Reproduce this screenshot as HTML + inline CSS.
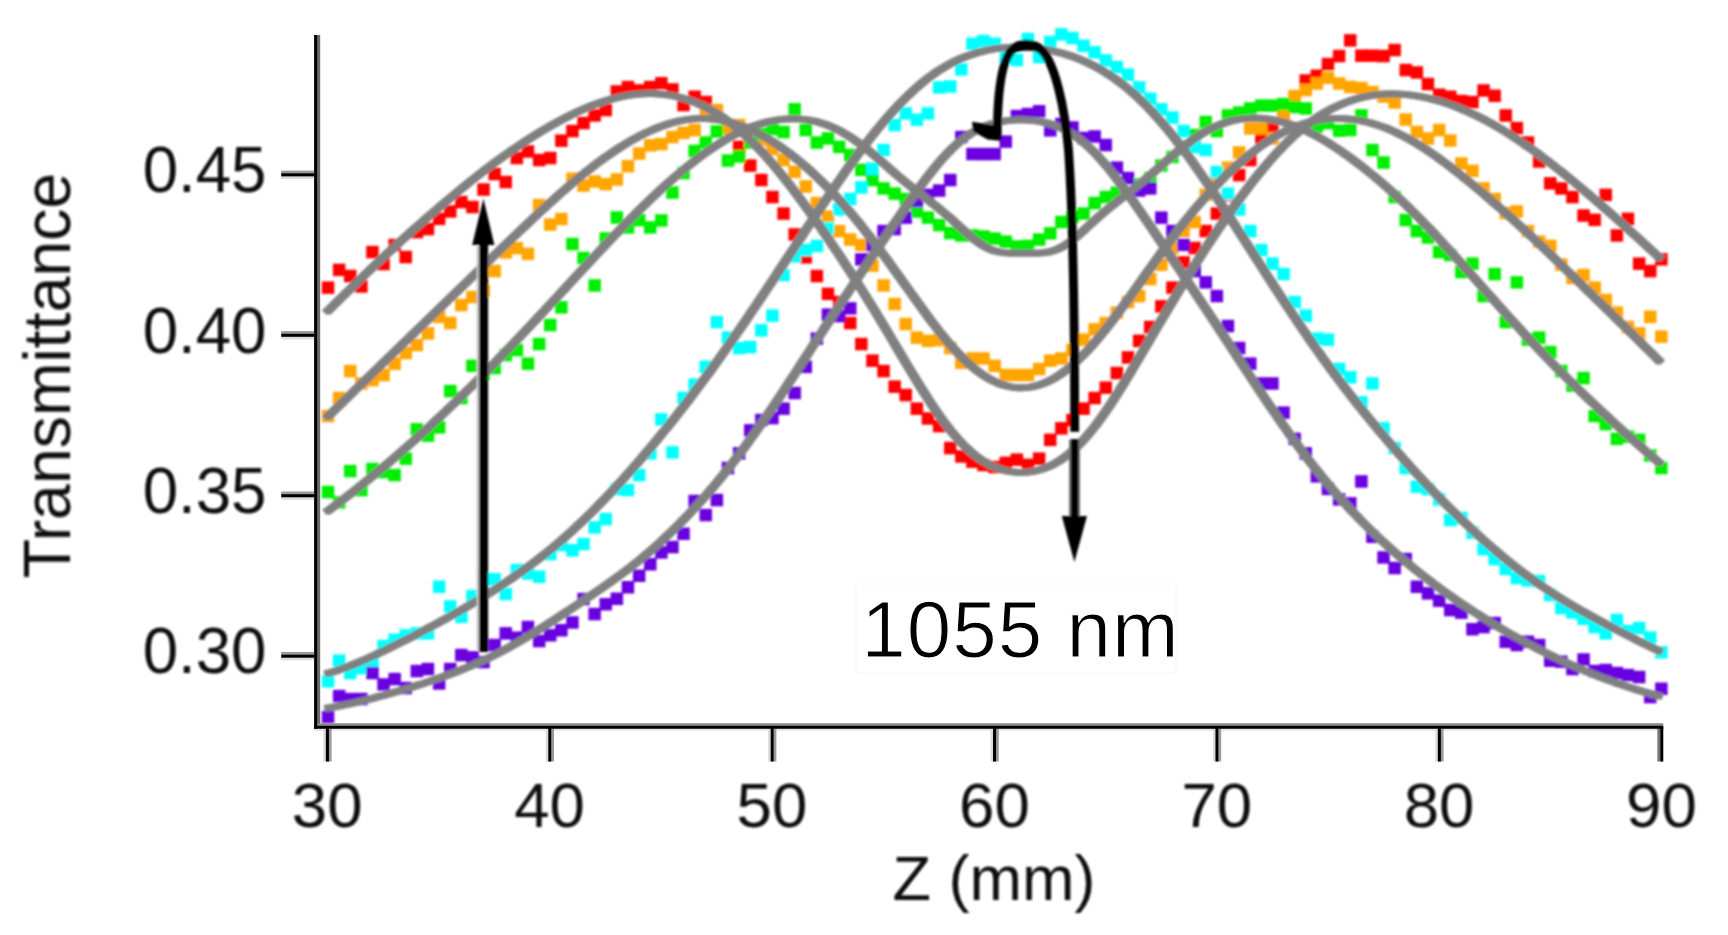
<!DOCTYPE html>
<html lang="en"><head><meta charset="utf-8"><title>Z-scan transmittance at 1055 nm</title>
<style>
html,body{margin:0;padding:0;background:#fff;}
body{width:1728px;height:935px;overflow:hidden;}
svg{display:block;}
</style></head><body>
<svg width="1728" height="935" viewBox="0 0 1728 935">
<defs><filter id="soft" x="-2%" y="-2%" width="104%" height="104%"><feGaussianBlur stdDeviation="1.15"/></filter><filter id="soft3" x="-2%" y="-2%" width="104%" height="104%"><feGaussianBlur stdDeviation="0.35"/></filter><filter id="soft2" x="-2%" y="-5%" width="104%" height="110%"><feGaussianBlur stdDeviation="0.6"/></filter></defs>
<rect width="1728" height="935" fill="#fff"/>
<g filter="url(#soft)">
<g id="markers"><g fill="#ff0000"><rect x="321.8" y="281.4" width="12.5" height="12.5"/><rect x="332.9" y="263.6" width="12.5" height="12.5"/><rect x="344.0" y="269.8" width="12.5" height="12.5"/><rect x="355.1" y="280.2" width="12.5" height="12.5"/><rect x="366.2" y="245.8" width="12.5" height="12.5"/><rect x="377.3" y="257.8" width="12.5" height="12.5"/><rect x="388.4" y="238.8" width="12.5" height="12.5"/><rect x="399.5" y="250.8" width="12.5" height="12.5"/><rect x="410.6" y="225.8" width="12.5" height="12.5"/><rect x="421.7" y="222.8" width="12.5" height="12.5"/><rect x="432.9" y="212.6" width="12.5" height="12.5"/><rect x="444.0" y="205.2" width="12.5" height="12.5"/><rect x="455.1" y="195.8" width="12.5" height="12.5"/><rect x="466.2" y="200.8" width="12.5" height="12.5"/><rect x="477.3" y="183.3" width="12.5" height="12.5"/><rect x="488.4" y="167.8" width="12.5" height="12.5"/><rect x="499.5" y="175.8" width="12.5" height="12.5"/><rect x="510.6" y="151.8" width="12.5" height="12.5"/><rect x="521.7" y="145.2" width="12.5" height="12.5"/><rect x="532.9" y="153.8" width="12.5" height="12.5"/><rect x="544.0" y="151.8" width="12.5" height="12.5"/><rect x="555.1" y="134.4" width="12.5" height="12.5"/><rect x="566.2" y="124.8" width="12.5" height="12.5"/><rect x="577.3" y="116.8" width="12.5" height="12.5"/><rect x="588.4" y="109.2" width="12.5" height="12.5"/><rect x="599.5" y="103.8" width="12.5" height="12.5"/><rect x="610.6" y="85.2" width="12.5" height="12.5"/><rect x="621.7" y="80.8" width="12.5" height="12.5"/><rect x="632.9" y="84.2" width="12.5" height="12.5"/><rect x="644.0" y="80.8" width="12.5" height="12.5"/><rect x="655.1" y="77.0" width="12.5" height="12.5"/><rect x="666.2" y="83.2" width="12.5" height="12.5"/><rect x="677.3" y="98.8" width="12.5" height="12.5"/><rect x="688.4" y="90.5" width="12.5" height="12.5"/><rect x="699.5" y="95.8" width="12.5" height="12.5"/><rect x="710.6" y="106.8" width="12.5" height="12.5"/><rect x="721.7" y="121.8" width="12.5" height="12.5"/><rect x="732.9" y="140.6" width="12.5" height="12.5"/><rect x="744.0" y="159.3" width="12.5" height="12.5"/><rect x="755.1" y="173.8" width="12.5" height="12.5"/><rect x="766.2" y="190.8" width="12.5" height="12.5"/><rect x="777.3" y="207.3" width="12.5" height="12.5"/><rect x="788.4" y="228.2" width="12.5" height="12.5"/><rect x="799.5" y="251.1" width="12.5" height="12.5"/><rect x="810.6" y="269.8" width="12.5" height="12.5"/><rect x="821.7" y="287.6" width="12.5" height="12.5"/><rect x="832.9" y="295.8" width="12.5" height="12.5"/><rect x="844.0" y="316.8" width="12.5" height="12.5"/><rect x="855.1" y="337.8" width="12.5" height="12.5"/><rect x="866.2" y="354.4" width="12.5" height="12.5"/><rect x="877.3" y="364.8" width="12.5" height="12.5"/><rect x="888.4" y="380.4" width="12.5" height="12.5"/><rect x="899.5" y="388.8" width="12.5" height="12.5"/><rect x="910.6" y="402.4" width="12.5" height="12.5"/><rect x="921.7" y="412.2" width="12.5" height="12.5"/><rect x="932.9" y="419.8" width="12.5" height="12.5"/><rect x="944.0" y="441.8" width="12.5" height="12.5"/><rect x="955.1" y="450.2" width="12.5" height="12.5"/><rect x="966.2" y="455.4" width="12.5" height="12.5"/><rect x="977.3" y="458.8" width="12.5" height="12.5"/><rect x="988.4" y="460.8" width="12.5" height="12.5"/><rect x="999.5" y="456.6" width="12.5" height="12.5"/><rect x="1010.6" y="453.4" width="12.5" height="12.5"/><rect x="1021.7" y="458.6" width="12.5" height="12.5"/><rect x="1032.9" y="452.4" width="12.5" height="12.5"/><rect x="1044.0" y="433.6" width="12.5" height="12.5"/><rect x="1055.1" y="422.1" width="12.5" height="12.5"/><rect x="1066.2" y="413.8" width="12.5" height="12.5"/><rect x="1077.3" y="402.4" width="12.5" height="12.5"/><rect x="1088.4" y="391.8" width="12.5" height="12.5"/><rect x="1099.5" y="381.4" width="12.5" height="12.5"/><rect x="1110.6" y="366.8" width="12.5" height="12.5"/><rect x="1121.7" y="351.2" width="12.5" height="12.5"/><rect x="1132.9" y="334.6" width="12.5" height="12.5"/><rect x="1144.0" y="320.8" width="12.5" height="12.5"/><rect x="1155.1" y="300.1" width="12.5" height="12.5"/><rect x="1166.2" y="281.4" width="12.5" height="12.5"/><rect x="1177.3" y="256.2" width="12.5" height="12.5"/><rect x="1188.4" y="241.8" width="12.5" height="12.5"/><rect x="1199.5" y="224.8" width="12.5" height="12.5"/><rect x="1210.6" y="207.3" width="12.5" height="12.5"/><rect x="1221.7" y="188.8" width="12.5" height="12.5"/><rect x="1232.9" y="168.8" width="12.5" height="12.5"/><rect x="1244.0" y="153.8" width="12.5" height="12.5"/><rect x="1255.1" y="131.2" width="12.5" height="12.5"/><rect x="1266.2" y="122.1" width="12.5" height="12.5"/><rect x="1277.3" y="111.8" width="12.5" height="12.5"/><rect x="1288.4" y="93.8" width="12.5" height="12.5"/><rect x="1299.5" y="74.3" width="12.5" height="12.5"/><rect x="1310.6" y="69.5" width="12.5" height="12.5"/><rect x="1321.7" y="57.8" width="12.5" height="12.5"/><rect x="1332.9" y="49.8" width="12.5" height="12.5"/><rect x="1344.0" y="34.1" width="12.5" height="12.5"/><rect x="1355.1" y="49.4" width="12.5" height="12.5"/><rect x="1366.2" y="49.4" width="12.5" height="12.5"/><rect x="1377.3" y="49.8" width="12.5" height="12.5"/><rect x="1388.4" y="43.8" width="12.5" height="12.5"/><rect x="1399.5" y="63.8" width="12.5" height="12.5"/><rect x="1410.6" y="66.2" width="12.5" height="12.5"/><rect x="1421.7" y="77.8" width="12.5" height="12.5"/><rect x="1432.9" y="88.5" width="12.5" height="12.5"/><rect x="1444.0" y="90.5" width="12.5" height="12.5"/><rect x="1455.1" y="94.8" width="12.5" height="12.5"/><rect x="1466.2" y="95.8" width="12.5" height="12.5"/><rect x="1477.3" y="84.2" width="12.5" height="12.5"/><rect x="1488.4" y="89.5" width="12.5" height="12.5"/><rect x="1499.5" y="109.2" width="12.5" height="12.5"/><rect x="1510.6" y="121.8" width="12.5" height="12.5"/><rect x="1521.7" y="136.3" width="12.5" height="12.5"/><rect x="1532.9" y="155.2" width="12.5" height="12.5"/><rect x="1544.0" y="177.1" width="12.5" height="12.5"/><rect x="1555.1" y="182.2" width="12.5" height="12.5"/><rect x="1566.2" y="190.8" width="12.5" height="12.5"/><rect x="1577.3" y="209.3" width="12.5" height="12.5"/><rect x="1588.4" y="213.6" width="12.5" height="12.5"/><rect x="1599.5" y="188.6" width="12.5" height="12.5"/><rect x="1610.6" y="229.2" width="12.5" height="12.5"/><rect x="1621.7" y="212.6" width="12.5" height="12.5"/><rect x="1632.9" y="257.4" width="12.5" height="12.5"/><rect x="1644.0" y="264.8" width="12.5" height="12.5"/><rect x="1655.1" y="253.1" width="12.5" height="12.5"/></g>
<g fill="#ffa500"><rect x="321.8" y="409.8" width="12.5" height="12.5"/><rect x="332.9" y="391.8" width="12.5" height="12.5"/><rect x="344.0" y="364.8" width="12.5" height="12.5"/><rect x="355.1" y="377.2" width="12.5" height="12.5"/><rect x="366.2" y="373.8" width="12.5" height="12.5"/><rect x="377.3" y="368.8" width="12.5" height="12.5"/><rect x="388.4" y="357.4" width="12.5" height="12.5"/><rect x="399.5" y="346.8" width="12.5" height="12.5"/><rect x="410.6" y="338.8" width="12.5" height="12.5"/><rect x="421.7" y="327.2" width="12.5" height="12.5"/><rect x="432.9" y="310.6" width="12.5" height="12.5"/><rect x="444.0" y="316.8" width="12.5" height="12.5"/><rect x="455.1" y="298.8" width="12.5" height="12.5"/><rect x="466.2" y="290.8" width="12.5" height="12.5"/><rect x="477.3" y="284.4" width="12.5" height="12.5"/><rect x="488.4" y="264.8" width="12.5" height="12.5"/><rect x="499.5" y="246.2" width="12.5" height="12.5"/><rect x="510.6" y="241.9" width="12.5" height="12.5"/><rect x="521.7" y="247.6" width="12.5" height="12.5"/><rect x="532.9" y="198.8" width="12.5" height="12.5"/><rect x="544.0" y="218.3" width="12.5" height="12.5"/><rect x="555.1" y="212.8" width="12.5" height="12.5"/><rect x="566.2" y="172.4" width="12.5" height="12.5"/><rect x="577.3" y="179.3" width="12.5" height="12.5"/><rect x="588.4" y="175.2" width="12.5" height="12.5"/><rect x="599.5" y="177.9" width="12.5" height="12.5"/><rect x="610.6" y="173.2" width="12.5" height="12.5"/><rect x="621.7" y="159.9" width="12.5" height="12.5"/><rect x="632.9" y="147.3" width="12.5" height="12.5"/><rect x="644.0" y="139.1" width="12.5" height="12.5"/><rect x="655.1" y="137.8" width="12.5" height="12.5"/><rect x="666.2" y="130.8" width="12.5" height="12.5"/><rect x="677.3" y="126.6" width="12.5" height="12.5"/><rect x="688.4" y="123.8" width="12.5" height="12.5"/><rect x="699.5" y="107.2" width="12.5" height="12.5"/><rect x="710.6" y="103.8" width="12.5" height="12.5"/><rect x="721.7" y="121.8" width="12.5" height="12.5"/><rect x="732.9" y="118.8" width="12.5" height="12.5"/><rect x="744.0" y="123.3" width="12.5" height="12.5"/><rect x="755.1" y="133.2" width="12.5" height="12.5"/><rect x="766.2" y="142.8" width="12.5" height="12.5"/><rect x="777.3" y="153.8" width="12.5" height="12.5"/><rect x="788.4" y="165.6" width="12.5" height="12.5"/><rect x="799.5" y="180.2" width="12.5" height="12.5"/><rect x="810.6" y="196.8" width="12.5" height="12.5"/><rect x="821.7" y="210.4" width="12.5" height="12.5"/><rect x="832.9" y="224.8" width="12.5" height="12.5"/><rect x="844.0" y="233.3" width="12.5" height="12.5"/><rect x="855.1" y="238.8" width="12.5" height="12.5"/><rect x="866.2" y="259.4" width="12.5" height="12.5"/><rect x="877.3" y="279.2" width="12.5" height="12.5"/><rect x="888.4" y="297.8" width="12.5" height="12.5"/><rect x="899.5" y="317.8" width="12.5" height="12.5"/><rect x="910.6" y="331.4" width="12.5" height="12.5"/><rect x="921.7" y="334.6" width="12.5" height="12.5"/><rect x="932.9" y="333.8" width="12.5" height="12.5"/><rect x="944.0" y="341.8" width="12.5" height="12.5"/><rect x="955.1" y="356.4" width="12.5" height="12.5"/><rect x="966.2" y="352.2" width="12.5" height="12.5"/><rect x="977.3" y="352.2" width="12.5" height="12.5"/><rect x="988.4" y="359.6" width="12.5" height="12.5"/><rect x="999.5" y="368.8" width="12.5" height="12.5"/><rect x="1010.6" y="368.8" width="12.5" height="12.5"/><rect x="1021.7" y="368.8" width="12.5" height="12.5"/><rect x="1032.9" y="362.8" width="12.5" height="12.5"/><rect x="1044.0" y="354.4" width="12.5" height="12.5"/><rect x="1055.1" y="352.2" width="12.5" height="12.5"/><rect x="1066.2" y="343.8" width="12.5" height="12.5"/><rect x="1077.3" y="333.4" width="12.5" height="12.5"/><rect x="1088.4" y="323.1" width="12.5" height="12.5"/><rect x="1099.5" y="316.8" width="12.5" height="12.5"/><rect x="1110.6" y="306.4" width="12.5" height="12.5"/><rect x="1121.7" y="295.8" width="12.5" height="12.5"/><rect x="1132.9" y="289.8" width="12.5" height="12.5"/><rect x="1144.0" y="272.8" width="12.5" height="12.5"/><rect x="1155.1" y="258.4" width="12.5" height="12.5"/><rect x="1166.2" y="241.8" width="12.5" height="12.5"/><rect x="1177.3" y="224.8" width="12.5" height="12.5"/><rect x="1188.4" y="215.8" width="12.5" height="12.5"/><rect x="1199.5" y="188.6" width="12.5" height="12.5"/><rect x="1210.6" y="173.8" width="12.5" height="12.5"/><rect x="1221.7" y="161.4" width="12.5" height="12.5"/><rect x="1232.9" y="146.2" width="12.5" height="12.5"/><rect x="1244.0" y="122.2" width="12.5" height="12.5"/><rect x="1255.1" y="122.2" width="12.5" height="12.5"/><rect x="1266.2" y="132.1" width="12.5" height="12.5"/><rect x="1277.3" y="109.2" width="12.5" height="12.5"/><rect x="1288.4" y="89.8" width="12.5" height="12.5"/><rect x="1299.5" y="83.8" width="12.5" height="12.5"/><rect x="1310.6" y="77.2" width="12.5" height="12.5"/><rect x="1321.7" y="71.5" width="12.5" height="12.5"/><rect x="1332.9" y="77.2" width="12.5" height="12.5"/><rect x="1344.0" y="80.7" width="12.5" height="12.5"/><rect x="1355.1" y="81.8" width="12.5" height="12.5"/><rect x="1366.2" y="85.8" width="12.5" height="12.5"/><rect x="1377.3" y="90.3" width="12.5" height="12.5"/><rect x="1388.4" y="96.2" width="12.5" height="12.5"/><rect x="1399.5" y="113.3" width="12.5" height="12.5"/><rect x="1410.6" y="125.8" width="12.5" height="12.5"/><rect x="1421.7" y="132.2" width="12.5" height="12.5"/><rect x="1432.9" y="123.8" width="12.5" height="12.5"/><rect x="1444.0" y="134.3" width="12.5" height="12.5"/><rect x="1455.1" y="157.2" width="12.5" height="12.5"/><rect x="1466.2" y="164.6" width="12.5" height="12.5"/><rect x="1477.3" y="182.2" width="12.5" height="12.5"/><rect x="1488.4" y="192.8" width="12.5" height="12.5"/><rect x="1499.5" y="206.8" width="12.5" height="12.5"/><rect x="1510.6" y="205.2" width="12.5" height="12.5"/><rect x="1521.7" y="224.8" width="12.5" height="12.5"/><rect x="1532.9" y="235.4" width="12.5" height="12.5"/><rect x="1544.0" y="239.7" width="12.5" height="12.5"/><rect x="1555.1" y="258.4" width="12.5" height="12.5"/><rect x="1566.2" y="271.8" width="12.5" height="12.5"/><rect x="1577.3" y="268.8" width="12.5" height="12.5"/><rect x="1588.4" y="281.4" width="12.5" height="12.5"/><rect x="1599.5" y="293.8" width="12.5" height="12.5"/><rect x="1610.6" y="306.4" width="12.5" height="12.5"/><rect x="1621.7" y="320.8" width="12.5" height="12.5"/><rect x="1632.9" y="327.2" width="12.5" height="12.5"/><rect x="1644.0" y="310.6" width="12.5" height="12.5"/><rect x="1655.1" y="330.4" width="12.5" height="12.5"/></g>
<g fill="#00ee00"><rect x="321.8" y="485.8" width="12.5" height="12.5"/><rect x="332.9" y="496.1" width="12.5" height="12.5"/><rect x="344.0" y="464.8" width="12.5" height="12.5"/><rect x="355.1" y="483.8" width="12.5" height="12.5"/><rect x="366.2" y="462.8" width="12.5" height="12.5"/><rect x="377.3" y="465.8" width="12.5" height="12.5"/><rect x="388.4" y="468.8" width="12.5" height="12.5"/><rect x="399.5" y="452.4" width="12.5" height="12.5"/><rect x="410.6" y="423.1" width="12.5" height="12.5"/><rect x="421.7" y="429.4" width="12.5" height="12.5"/><rect x="432.9" y="421.1" width="12.5" height="12.5"/><rect x="444.0" y="384.8" width="12.5" height="12.5"/><rect x="455.1" y="391.8" width="12.5" height="12.5"/><rect x="466.2" y="359.6" width="12.5" height="12.5"/><rect x="477.3" y="368.0" width="12.5" height="12.5"/><rect x="488.4" y="361.8" width="12.5" height="12.5"/><rect x="499.5" y="348.8" width="12.5" height="12.5"/><rect x="510.6" y="343.8" width="12.5" height="12.5"/><rect x="521.7" y="357.4" width="12.5" height="12.5"/><rect x="532.9" y="337.8" width="12.5" height="12.5"/><rect x="544.0" y="318.8" width="12.5" height="12.5"/><rect x="555.1" y="301.1" width="12.5" height="12.5"/><rect x="566.2" y="237.8" width="12.5" height="12.5"/><rect x="577.3" y="251.8" width="12.5" height="12.5"/><rect x="588.4" y="279.2" width="12.5" height="12.5"/><rect x="599.5" y="232.2" width="12.5" height="12.5"/><rect x="610.6" y="211.3" width="12.5" height="12.5"/><rect x="621.7" y="221.2" width="12.5" height="12.5"/><rect x="632.9" y="213.8" width="12.5" height="12.5"/><rect x="644.0" y="221.2" width="12.5" height="12.5"/><rect x="655.1" y="214.2" width="12.5" height="12.5"/><rect x="666.2" y="186.3" width="12.5" height="12.5"/><rect x="677.3" y="166.8" width="12.5" height="12.5"/><rect x="688.4" y="144.7" width="12.5" height="12.5"/><rect x="699.5" y="136.2" width="12.5" height="12.5"/><rect x="710.6" y="125.2" width="12.5" height="12.5"/><rect x="721.7" y="154.3" width="12.5" height="12.5"/><rect x="732.9" y="150.2" width="12.5" height="12.5"/><rect x="744.0" y="136.3" width="12.5" height="12.5"/><rect x="755.1" y="127.8" width="12.5" height="12.5"/><rect x="766.2" y="122.8" width="12.5" height="12.5"/><rect x="777.3" y="125.8" width="12.5" height="12.5"/><rect x="788.4" y="103.0" width="12.5" height="12.5"/><rect x="799.5" y="123.8" width="12.5" height="12.5"/><rect x="810.6" y="136.3" width="12.5" height="12.5"/><rect x="821.7" y="132.2" width="12.5" height="12.5"/><rect x="832.9" y="140.6" width="12.5" height="12.5"/><rect x="844.0" y="148.8" width="12.5" height="12.5"/><rect x="855.1" y="163.6" width="12.5" height="12.5"/><rect x="866.2" y="173.8" width="12.5" height="12.5"/><rect x="877.3" y="182.2" width="12.5" height="12.5"/><rect x="888.4" y="187.4" width="12.5" height="12.5"/><rect x="899.5" y="192.8" width="12.5" height="12.5"/><rect x="910.6" y="205.2" width="12.5" height="12.5"/><rect x="921.7" y="211.4" width="12.5" height="12.5"/><rect x="932.9" y="218.8" width="12.5" height="12.5"/><rect x="944.0" y="226.8" width="12.5" height="12.5"/><rect x="955.1" y="229.2" width="12.5" height="12.5"/><rect x="966.2" y="229.2" width="12.5" height="12.5"/><rect x="977.3" y="230.2" width="12.5" height="12.5"/><rect x="988.4" y="232.3" width="12.5" height="12.5"/><rect x="999.5" y="235.4" width="12.5" height="12.5"/><rect x="1010.6" y="240.2" width="12.5" height="12.5"/><rect x="1021.7" y="239.7" width="12.5" height="12.5"/><rect x="1032.9" y="233.3" width="12.5" height="12.5"/><rect x="1044.0" y="227.1" width="12.5" height="12.5"/><rect x="1055.1" y="215.8" width="12.5" height="12.5"/><rect x="1066.2" y="210.8" width="12.5" height="12.5"/><rect x="1077.3" y="207.3" width="12.5" height="12.5"/><rect x="1088.4" y="196.8" width="12.5" height="12.5"/><rect x="1099.5" y="190.8" width="12.5" height="12.5"/><rect x="1110.6" y="186.4" width="12.5" height="12.5"/><rect x="1121.7" y="187.0" width="12.5" height="12.5"/><rect x="1132.9" y="178.2" width="12.5" height="12.5"/><rect x="1144.0" y="171.8" width="12.5" height="12.5"/><rect x="1155.1" y="159.3" width="12.5" height="12.5"/><rect x="1166.2" y="150.8" width="12.5" height="12.5"/><rect x="1177.3" y="140.4" width="12.5" height="12.5"/><rect x="1188.4" y="128.8" width="12.5" height="12.5"/><rect x="1199.5" y="115.8" width="12.5" height="12.5"/><rect x="1210.6" y="124.8" width="12.5" height="12.5"/><rect x="1221.7" y="109.2" width="12.5" height="12.5"/><rect x="1232.9" y="106.3" width="12.5" height="12.5"/><rect x="1244.0" y="102.2" width="12.5" height="12.5"/><rect x="1255.1" y="99.3" width="12.5" height="12.5"/><rect x="1266.2" y="99.3" width="12.5" height="12.5"/><rect x="1277.3" y="97.8" width="12.5" height="12.5"/><rect x="1288.4" y="100.8" width="12.5" height="12.5"/><rect x="1299.5" y="102.2" width="12.5" height="12.5"/><rect x="1310.6" y="120.2" width="12.5" height="12.5"/><rect x="1321.7" y="116.8" width="12.5" height="12.5"/><rect x="1332.9" y="124.4" width="12.5" height="12.5"/><rect x="1344.0" y="123.8" width="12.5" height="12.5"/><rect x="1355.1" y="109.2" width="12.5" height="12.5"/><rect x="1366.2" y="143.8" width="12.5" height="12.5"/><rect x="1377.3" y="156.3" width="12.5" height="12.5"/><rect x="1388.4" y="190.8" width="12.5" height="12.5"/><rect x="1399.5" y="213.8" width="12.5" height="12.5"/><rect x="1410.6" y="224.8" width="12.5" height="12.5"/><rect x="1421.7" y="231.2" width="12.5" height="12.5"/><rect x="1432.9" y="245.8" width="12.5" height="12.5"/><rect x="1444.0" y="248.8" width="12.5" height="12.5"/><rect x="1455.1" y="265.8" width="12.5" height="12.5"/><rect x="1466.2" y="257.4" width="12.5" height="12.5"/><rect x="1477.3" y="289.8" width="12.5" height="12.5"/><rect x="1488.4" y="267.8" width="12.5" height="12.5"/><rect x="1499.5" y="315.8" width="12.5" height="12.5"/><rect x="1510.6" y="276.1" width="12.5" height="12.5"/><rect x="1521.7" y="333.4" width="12.5" height="12.5"/><rect x="1532.9" y="331.4" width="12.5" height="12.5"/><rect x="1544.0" y="345.8" width="12.5" height="12.5"/><rect x="1555.1" y="364.8" width="12.5" height="12.5"/><rect x="1566.2" y="379.4" width="12.5" height="12.5"/><rect x="1577.3" y="371.8" width="12.5" height="12.5"/><rect x="1588.4" y="409.8" width="12.5" height="12.5"/><rect x="1599.5" y="417.8" width="12.5" height="12.5"/><rect x="1610.6" y="432.6" width="12.5" height="12.5"/><rect x="1621.7" y="430.4" width="12.5" height="12.5"/><rect x="1632.9" y="433.6" width="12.5" height="12.5"/><rect x="1644.0" y="449.2" width="12.5" height="12.5"/><rect x="1655.1" y="461.8" width="12.5" height="12.5"/></g>
<g fill="#00ffff"><rect x="321.8" y="675.1" width="12.5" height="12.5"/><rect x="332.9" y="654.4" width="12.5" height="12.5"/><rect x="344.0" y="666.8" width="12.5" height="12.5"/><rect x="355.1" y="661.8" width="12.5" height="12.5"/><rect x="366.2" y="657.5" width="12.5" height="12.5"/><rect x="377.3" y="639.8" width="12.5" height="12.5"/><rect x="388.4" y="633.5" width="12.5" height="12.5"/><rect x="399.5" y="629.2" width="12.5" height="12.5"/><rect x="410.6" y="627.1" width="12.5" height="12.5"/><rect x="421.7" y="627.1" width="12.5" height="12.5"/><rect x="432.9" y="580.5" width="12.5" height="12.5"/><rect x="444.0" y="600.2" width="12.5" height="12.5"/><rect x="455.1" y="610.5" width="12.5" height="12.5"/><rect x="466.2" y="589.8" width="12.5" height="12.5"/><rect x="477.3" y="572.8" width="12.5" height="12.5"/><rect x="488.4" y="573.0" width="12.5" height="12.5"/><rect x="499.5" y="587.8" width="12.5" height="12.5"/><rect x="510.6" y="563.8" width="12.5" height="12.5"/><rect x="521.7" y="567.2" width="12.5" height="12.5"/><rect x="532.9" y="570.5" width="12.5" height="12.5"/><rect x="544.0" y="547.8" width="12.5" height="12.5"/><rect x="555.1" y="538.8" width="12.5" height="12.5"/><rect x="566.2" y="544.1" width="12.5" height="12.5"/><rect x="577.3" y="537.8" width="12.5" height="12.5"/><rect x="588.4" y="521.1" width="12.5" height="12.5"/><rect x="599.5" y="512.8" width="12.5" height="12.5"/><rect x="610.6" y="482.8" width="12.5" height="12.5"/><rect x="621.7" y="483.8" width="12.5" height="12.5"/><rect x="632.9" y="468.8" width="12.5" height="12.5"/><rect x="644.0" y="447.1" width="12.5" height="12.5"/><rect x="655.1" y="413.2" width="12.5" height="12.5"/><rect x="666.2" y="446.1" width="12.5" height="12.5"/><rect x="677.3" y="391.8" width="12.5" height="12.5"/><rect x="688.4" y="378.4" width="12.5" height="12.5"/><rect x="699.5" y="360.6" width="12.5" height="12.5"/><rect x="710.6" y="315.8" width="12.5" height="12.5"/><rect x="721.7" y="331.4" width="12.5" height="12.5"/><rect x="732.9" y="341.8" width="12.5" height="12.5"/><rect x="744.0" y="340.8" width="12.5" height="12.5"/><rect x="755.1" y="324.1" width="12.5" height="12.5"/><rect x="766.2" y="309.4" width="12.5" height="12.5"/><rect x="777.3" y="268.8" width="12.5" height="12.5"/><rect x="788.4" y="250.1" width="12.5" height="12.5"/><rect x="799.5" y="243.8" width="12.5" height="12.5"/><rect x="810.6" y="239.7" width="12.5" height="12.5"/><rect x="821.7" y="221.8" width="12.5" height="12.5"/><rect x="832.9" y="203.2" width="12.5" height="12.5"/><rect x="844.0" y="192.8" width="12.5" height="12.5"/><rect x="855.1" y="181.2" width="12.5" height="12.5"/><rect x="866.2" y="162.4" width="12.5" height="12.5"/><rect x="877.3" y="143.8" width="12.5" height="12.5"/><rect x="888.4" y="118.8" width="12.5" height="12.5"/><rect x="899.5" y="107.2" width="12.5" height="12.5"/><rect x="910.6" y="113.5" width="12.5" height="12.5"/><rect x="921.7" y="107.2" width="12.5" height="12.5"/><rect x="932.9" y="81.2" width="12.5" height="12.5"/><rect x="944.0" y="80.2" width="12.5" height="12.5"/><rect x="955.1" y="63.2" width="12.5" height="12.5"/><rect x="966.2" y="37.5" width="12.5" height="12.5"/><rect x="977.3" y="34.8" width="12.5" height="12.5"/><rect x="988.4" y="37.5" width="12.5" height="12.5"/><rect x="999.5" y="50.8" width="12.5" height="12.5"/><rect x="1010.6" y="53.8" width="12.5" height="12.5"/><rect x="1021.7" y="32.8" width="12.5" height="12.5"/><rect x="1032.9" y="50.8" width="12.5" height="12.5"/><rect x="1044.0" y="35.8" width="12.5" height="12.5"/><rect x="1055.1" y="28.1" width="12.5" height="12.5"/><rect x="1066.2" y="31.8" width="12.5" height="12.5"/><rect x="1077.3" y="39.5" width="12.5" height="12.5"/><rect x="1088.4" y="46.1" width="12.5" height="12.5"/><rect x="1099.5" y="54.2" width="12.5" height="12.5"/><rect x="1110.6" y="60.8" width="12.5" height="12.5"/><rect x="1121.7" y="68.5" width="12.5" height="12.5"/><rect x="1132.9" y="81.2" width="12.5" height="12.5"/><rect x="1144.0" y="92.5" width="12.5" height="12.5"/><rect x="1155.1" y="103.0" width="12.5" height="12.5"/><rect x="1166.2" y="111.3" width="12.5" height="12.5"/><rect x="1177.3" y="124.8" width="12.5" height="12.5"/><rect x="1188.4" y="140.8" width="12.5" height="12.5"/><rect x="1199.5" y="143.8" width="12.5" height="12.5"/><rect x="1210.6" y="165.8" width="12.5" height="12.5"/><rect x="1221.7" y="187.4" width="12.5" height="12.5"/><rect x="1232.9" y="203.2" width="12.5" height="12.5"/><rect x="1244.0" y="224.8" width="12.5" height="12.5"/><rect x="1255.1" y="243.8" width="12.5" height="12.5"/><rect x="1266.2" y="257.4" width="12.5" height="12.5"/><rect x="1277.3" y="267.8" width="12.5" height="12.5"/><rect x="1288.4" y="295.8" width="12.5" height="12.5"/><rect x="1299.5" y="309.4" width="12.5" height="12.5"/><rect x="1310.6" y="332.4" width="12.5" height="12.5"/><rect x="1321.7" y="333.4" width="12.5" height="12.5"/><rect x="1332.9" y="362.8" width="12.5" height="12.5"/><rect x="1344.0" y="371.1" width="12.5" height="12.5"/><rect x="1355.1" y="396.1" width="12.5" height="12.5"/><rect x="1366.2" y="377.2" width="12.5" height="12.5"/><rect x="1377.3" y="422.1" width="12.5" height="12.5"/><rect x="1388.4" y="441.8" width="12.5" height="12.5"/><rect x="1399.5" y="461.8" width="12.5" height="12.5"/><rect x="1410.6" y="480.4" width="12.5" height="12.5"/><rect x="1421.7" y="482.8" width="12.5" height="12.5"/><rect x="1432.9" y="493.1" width="12.5" height="12.5"/><rect x="1444.0" y="513.8" width="12.5" height="12.5"/><rect x="1455.1" y="511.8" width="12.5" height="12.5"/><rect x="1466.2" y="526.4" width="12.5" height="12.5"/><rect x="1477.3" y="542.8" width="12.5" height="12.5"/><rect x="1488.4" y="552.8" width="12.5" height="12.5"/><rect x="1499.5" y="562.8" width="12.5" height="12.5"/><rect x="1510.6" y="571.8" width="12.5" height="12.5"/><rect x="1521.7" y="574.2" width="12.5" height="12.5"/><rect x="1532.9" y="574.8" width="12.5" height="12.5"/><rect x="1544.0" y="588.8" width="12.5" height="12.5"/><rect x="1555.1" y="601.8" width="12.5" height="12.5"/><rect x="1566.2" y="606.2" width="12.5" height="12.5"/><rect x="1577.3" y="612.5" width="12.5" height="12.5"/><rect x="1588.4" y="620.8" width="12.5" height="12.5"/><rect x="1599.5" y="627.1" width="12.5" height="12.5"/><rect x="1610.6" y="613.8" width="12.5" height="12.5"/><rect x="1621.7" y="624.8" width="12.5" height="12.5"/><rect x="1632.9" y="621.8" width="12.5" height="12.5"/><rect x="1644.0" y="631.4" width="12.5" height="12.5"/><rect x="1655.1" y="646.0" width="12.5" height="12.5"/></g>
<g fill="#6a00e0"><rect x="321.8" y="710.8" width="12.5" height="12.5"/><rect x="332.9" y="689.8" width="12.5" height="12.5"/><rect x="344.0" y="692.8" width="12.5" height="12.5"/><rect x="355.1" y="692.8" width="12.5" height="12.5"/><rect x="366.2" y="666.8" width="12.5" height="12.5"/><rect x="377.3" y="678.2" width="12.5" height="12.5"/><rect x="388.4" y="672.8" width="12.5" height="12.5"/><rect x="399.5" y="681.8" width="12.5" height="12.5"/><rect x="410.6" y="664.8" width="12.5" height="12.5"/><rect x="421.7" y="662.8" width="12.5" height="12.5"/><rect x="432.9" y="677.2" width="12.5" height="12.5"/><rect x="444.0" y="662.8" width="12.5" height="12.5"/><rect x="455.1" y="648.8" width="12.5" height="12.5"/><rect x="466.2" y="651.1" width="12.5" height="12.5"/><rect x="477.3" y="655.8" width="12.5" height="12.5"/><rect x="488.4" y="638.8" width="12.5" height="12.5"/><rect x="499.5" y="627.1" width="12.5" height="12.5"/><rect x="510.6" y="631.4" width="12.5" height="12.5"/><rect x="521.7" y="620.8" width="12.5" height="12.5"/><rect x="532.9" y="634.8" width="12.5" height="12.5"/><rect x="544.0" y="629.0" width="12.5" height="12.5"/><rect x="555.1" y="624.0" width="12.5" height="12.5"/><rect x="566.2" y="616.2" width="12.5" height="12.5"/><rect x="577.3" y="592.8" width="12.5" height="12.5"/><rect x="588.4" y="607.8" width="12.5" height="12.5"/><rect x="599.5" y="598.0" width="12.5" height="12.5"/><rect x="610.6" y="592.5" width="12.5" height="12.5"/><rect x="621.7" y="581.0" width="12.5" height="12.5"/><rect x="632.9" y="569.5" width="12.5" height="12.5"/><rect x="644.0" y="558.0" width="12.5" height="12.5"/><rect x="655.1" y="546.2" width="12.5" height="12.5"/><rect x="666.2" y="540.8" width="12.5" height="12.5"/><rect x="677.3" y="527.5" width="12.5" height="12.5"/><rect x="688.4" y="494.8" width="12.5" height="12.5"/><rect x="699.5" y="508.8" width="12.5" height="12.5"/><rect x="710.6" y="493.8" width="12.5" height="12.5"/><rect x="721.7" y="461.8" width="12.5" height="12.5"/><rect x="732.9" y="447.1" width="12.5" height="12.5"/><rect x="744.0" y="424.1" width="12.5" height="12.5"/><rect x="755.1" y="413.8" width="12.5" height="12.5"/><rect x="766.2" y="411.8" width="12.5" height="12.5"/><rect x="777.3" y="402.4" width="12.5" height="12.5"/><rect x="788.4" y="386.8" width="12.5" height="12.5"/><rect x="799.5" y="360.6" width="12.5" height="12.5"/><rect x="810.6" y="332.4" width="12.5" height="12.5"/><rect x="821.7" y="308.4" width="12.5" height="12.5"/><rect x="832.9" y="309.8" width="12.5" height="12.5"/><rect x="844.0" y="302.1" width="12.5" height="12.5"/><rect x="855.1" y="253.1" width="12.5" height="12.5"/><rect x="866.2" y="238.8" width="12.5" height="12.5"/><rect x="877.3" y="224.8" width="12.5" height="12.5"/><rect x="888.4" y="222.8" width="12.5" height="12.5"/><rect x="899.5" y="211.4" width="12.5" height="12.5"/><rect x="910.6" y="194.8" width="12.5" height="12.5"/><rect x="921.7" y="188.6" width="12.5" height="12.5"/><rect x="932.9" y="184.3" width="12.5" height="12.5"/><rect x="944.0" y="173.8" width="12.5" height="12.5"/><rect x="955.1" y="130.8" width="12.5" height="12.5"/><rect x="966.2" y="147.8" width="12.5" height="12.5"/><rect x="977.3" y="147.8" width="12.5" height="12.5"/><rect x="988.4" y="147.8" width="12.5" height="12.5"/><rect x="999.5" y="135.4" width="12.5" height="12.5"/><rect x="1010.6" y="109.8" width="12.5" height="12.5"/><rect x="1021.7" y="107.8" width="12.5" height="12.5"/><rect x="1032.9" y="105.0" width="12.5" height="12.5"/><rect x="1044.0" y="124.1" width="12.5" height="12.5"/><rect x="1055.1" y="117.8" width="12.5" height="12.5"/><rect x="1066.2" y="121.2" width="12.5" height="12.5"/><rect x="1077.3" y="131.8" width="12.5" height="12.5"/><rect x="1088.4" y="130.2" width="12.5" height="12.5"/><rect x="1099.5" y="138.8" width="12.5" height="12.5"/><rect x="1110.6" y="161.4" width="12.5" height="12.5"/><rect x="1121.7" y="171.8" width="12.5" height="12.5"/><rect x="1132.9" y="184.3" width="12.5" height="12.5"/><rect x="1144.0" y="182.2" width="12.5" height="12.5"/><rect x="1155.1" y="211.4" width="12.5" height="12.5"/><rect x="1166.2" y="224.8" width="12.5" height="12.5"/><rect x="1177.3" y="238.6" width="12.5" height="12.5"/><rect x="1188.4" y="264.8" width="12.5" height="12.5"/><rect x="1199.5" y="276.1" width="12.5" height="12.5"/><rect x="1210.6" y="289.8" width="12.5" height="12.5"/><rect x="1221.7" y="319.8" width="12.5" height="12.5"/><rect x="1232.9" y="341.8" width="12.5" height="12.5"/><rect x="1244.0" y="357.4" width="12.5" height="12.5"/><rect x="1255.1" y="377.2" width="12.5" height="12.5"/><rect x="1266.2" y="377.2" width="12.5" height="12.5"/><rect x="1277.3" y="406.4" width="12.5" height="12.5"/><rect x="1288.4" y="432.6" width="12.5" height="12.5"/><rect x="1299.5" y="447.1" width="12.5" height="12.5"/><rect x="1310.6" y="470.1" width="12.5" height="12.5"/><rect x="1321.7" y="482.6" width="12.5" height="12.5"/><rect x="1332.9" y="493.1" width="12.5" height="12.5"/><rect x="1344.0" y="497.1" width="12.5" height="12.5"/><rect x="1355.1" y="475.2" width="12.5" height="12.5"/><rect x="1366.2" y="530.5" width="12.5" height="12.5"/><rect x="1377.3" y="551.2" width="12.5" height="12.5"/><rect x="1388.4" y="561.8" width="12.5" height="12.5"/><rect x="1399.5" y="552.8" width="12.5" height="12.5"/><rect x="1410.6" y="580.5" width="12.5" height="12.5"/><rect x="1421.7" y="587.1" width="12.5" height="12.5"/><rect x="1432.9" y="594.5" width="12.5" height="12.5"/><rect x="1444.0" y="603.8" width="12.5" height="12.5"/><rect x="1455.1" y="606.4" width="12.5" height="12.5"/><rect x="1466.2" y="623.0" width="12.5" height="12.5"/><rect x="1477.3" y="620.8" width="12.5" height="12.5"/><rect x="1488.4" y="616.8" width="12.5" height="12.5"/><rect x="1499.5" y="635.5" width="12.5" height="12.5"/><rect x="1510.6" y="638.8" width="12.5" height="12.5"/><rect x="1521.7" y="635.5" width="12.5" height="12.5"/><rect x="1532.9" y="638.8" width="12.5" height="12.5"/><rect x="1544.0" y="654.4" width="12.5" height="12.5"/><rect x="1555.1" y="655.4" width="12.5" height="12.5"/><rect x="1566.2" y="662.8" width="12.5" height="12.5"/><rect x="1577.3" y="653.2" width="12.5" height="12.5"/><rect x="1588.4" y="664.8" width="12.5" height="12.5"/><rect x="1599.5" y="663.8" width="12.5" height="12.5"/><rect x="1610.6" y="666.8" width="12.5" height="12.5"/><rect x="1621.7" y="668.8" width="12.5" height="12.5"/><rect x="1632.9" y="670.8" width="12.5" height="12.5"/><rect x="1644.0" y="690.8" width="12.5" height="12.5"/><rect x="1655.1" y="682.5" width="12.5" height="12.5"/></g></g>
<g fill="none" stroke="#808080" stroke-width="6.7" stroke-linecap="butt" stroke-linejoin="round"><g id="fits"><path d="M326.0,708.4 L329.0,707.9 L332.0,707.4 L335.0,706.8 L338.0,706.2 L341.0,705.6 L344.0,705.0 L347.0,704.4 L350.0,703.7 L353.0,703.1 L356.0,702.4 L359.0,701.7 L362.0,701.0 L365.0,700.2 L368.0,699.5 L371.0,698.7 L374.0,697.9 L377.0,697.1 L380.0,696.3 L383.0,695.5 L386.0,694.7 L389.0,693.8 L392.0,693.0 L395.0,692.1 L398.0,691.3 L401.0,690.4 L404.0,689.5 L407.0,688.6 L410.0,687.7 L413.0,686.7 L416.0,685.8 L419.0,684.8 L422.0,683.9 L425.0,682.9 L428.0,681.9 L431.0,680.9 L434.0,679.9 L437.0,678.8 L440.0,677.8 L443.0,676.7 L446.0,675.6 L449.0,674.5 L452.0,673.4 L455.0,672.3 L458.0,671.1 L461.0,669.9 L464.0,668.7 L467.0,667.5 L470.0,666.2 L473.0,665.0 L476.0,663.7 L479.0,662.3 L482.0,661.0 L485.0,659.6 L488.0,658.2 L491.0,656.7 L494.0,655.2 L497.0,653.7 L500.0,652.2 L503.0,650.6 L506.0,649.0 L509.0,647.4 L512.0,645.7 L515.0,644.0 L518.0,642.3 L521.0,640.5 L524.0,638.8 L527.0,637.0 L530.0,635.1 L533.0,633.3 L536.0,631.4 L539.0,629.6 L542.0,627.7 L545.0,625.8 L548.0,623.9 L551.0,621.9 L554.0,620.0 L557.0,618.0 L560.0,616.1 L563.0,614.1 L566.0,612.1 L569.0,610.2 L572.0,608.2 L575.0,606.2 L578.0,604.2 L581.0,602.2 L584.0,600.1 L587.0,598.1 L590.0,596.1 L593.0,594.1 L596.0,592.0 L599.0,590.0 L602.0,587.9 L605.0,585.8 L608.0,583.7 L611.0,581.6 L614.0,579.5 L617.0,577.3 L620.0,575.1 L623.0,572.9 L626.0,570.7 L629.0,568.4 L632.0,566.1 L635.0,563.7 L638.0,561.3 L641.0,558.9 L644.0,556.4 L647.0,553.9 L650.0,551.3 L653.0,548.7 L656.0,546.1 L659.0,543.4 L662.0,540.6 L665.0,537.8 L668.0,535.0 L671.0,532.1 L674.0,529.2 L677.0,526.3 L680.0,523.3 L683.0,520.2 L686.0,517.1 L689.0,514.0 L692.0,510.8 L695.0,507.6 L698.0,504.3 L701.0,501.0 L704.0,497.6 L707.0,494.2 L710.0,490.7 L713.0,487.2 L716.0,483.6 L719.0,480.0 L722.0,476.3 L725.0,472.6 L728.0,468.8 L731.0,465.0 L734.0,461.1 L737.0,457.2 L740.0,453.2 L743.0,449.2 L746.0,445.2 L749.0,441.1 L752.0,436.9 L755.0,432.7 L758.0,428.5 L761.0,424.2 L764.0,419.9 L767.0,415.6 L770.0,411.2 L773.0,406.8 L776.0,402.3 L779.0,397.8 L782.0,393.3 L785.0,388.8 L788.0,384.2 L791.0,379.6 L794.0,375.1 L797.0,370.5 L800.0,365.8 L803.0,361.2 L806.0,356.6 L809.0,352.0 L812.0,347.3 L815.0,342.7 L818.0,338.1 L821.0,333.5 L824.0,328.9 L827.0,324.3 L830.0,319.7 L833.0,315.1 L836.0,310.6 L839.0,306.0 L842.0,301.5 L845.0,297.0 L848.0,292.5 L851.0,288.0 L854.0,283.5 L857.0,279.0 L860.0,274.5 L863.0,270.1 L866.0,265.6 L869.0,261.2 L872.0,256.7 L875.0,252.3 L878.0,247.8 L881.0,243.4 L884.0,238.9 L887.0,234.5 L890.0,230.0 L893.0,225.6 L896.0,221.2 L899.0,216.8 L902.0,212.4 L905.0,208.0 L908.0,203.7 L911.0,199.4 L914.0,195.2 L917.0,191.0 L920.0,186.8 L923.0,182.8 L926.0,178.8 L929.0,174.9 L932.0,171.1 L935.0,167.3 L938.0,163.7 L941.0,160.3 L944.0,156.9 L947.0,153.7 L950.0,150.6 L953.0,147.7 L956.0,144.9 L959.0,142.3 L962.0,139.8 L965.0,137.5 L968.0,135.4 L971.0,133.4 L974.0,131.6 L977.0,129.9 L980.0,128.4 L983.0,127.1 L986.0,125.9 L989.0,124.8 L992.0,123.8 L995.0,123.0 L998.0,122.3 L1001.0,121.6 L1004.0,121.1 L1007.0,120.7 L1010.0,120.4 L1013.0,120.2 L1016.0,120.0 L1019.0,119.9 L1022.0,119.9 L1025.0,120.0 L1028.0,120.1 L1031.0,120.4 L1034.0,120.7 L1037.0,121.0 L1040.0,121.5 L1043.0,122.1 L1046.0,122.8 L1049.0,123.6 L1052.0,124.5 L1055.0,125.5 L1058.0,126.6 L1061.0,127.9 L1064.0,129.3 L1067.0,130.9 L1070.0,132.6 L1073.0,134.5 L1076.0,136.5 L1079.0,138.7 L1082.0,141.1 L1085.0,143.6 L1088.0,146.3 L1091.0,149.1 L1094.0,152.0 L1097.0,155.1 L1100.0,158.4 L1103.0,161.8 L1106.0,165.3 L1109.0,168.9 L1112.0,172.6 L1115.0,176.5 L1118.0,180.4 L1121.0,184.4 L1124.0,188.5 L1127.0,192.6 L1130.0,196.8 L1133.0,201.0 L1136.0,205.3 L1139.0,209.7 L1142.0,214.0 L1145.0,218.4 L1148.0,222.8 L1151.0,227.2 L1154.0,231.6 L1157.0,236.1 L1160.0,240.5 L1163.0,245.0 L1166.0,249.4 L1169.0,253.9 L1172.0,258.3 L1175.0,262.8 L1178.0,267.2 L1181.0,271.7 L1184.0,276.1 L1187.0,280.6 L1190.0,285.1 L1193.0,289.6 L1196.0,294.1 L1199.0,298.6 L1202.0,303.1 L1205.0,307.6 L1208.0,312.1 L1211.0,316.6 L1214.0,321.2 L1217.0,325.7 L1220.0,330.3 L1223.0,334.9 L1226.0,339.4 L1229.0,344.0 L1232.0,348.6 L1235.0,353.2 L1238.0,357.8 L1241.0,362.3 L1244.0,366.9 L1247.0,371.5 L1250.0,376.0 L1253.0,380.6 L1256.0,385.1 L1259.0,389.6 L1262.0,394.1 L1265.0,398.6 L1268.0,403.1 L1271.0,407.5 L1274.0,411.9 L1277.0,416.2 L1280.0,420.6 L1283.0,424.9 L1286.0,429.1 L1289.0,433.4 L1292.0,437.5 L1295.0,441.7 L1298.0,445.8 L1301.0,449.8 L1304.0,453.8 L1307.0,457.8 L1310.0,461.7 L1313.0,465.5 L1316.0,469.3 L1319.0,473.1 L1322.0,476.8 L1325.0,480.4 L1328.0,484.0 L1331.0,487.6 L1334.0,491.1 L1337.0,494.6 L1340.0,498.0 L1343.0,501.3 L1346.0,504.6 L1349.0,507.9 L1352.0,511.1 L1355.0,514.3 L1358.0,517.4 L1361.0,520.5 L1364.0,523.5 L1367.0,526.5 L1370.0,529.5 L1373.0,532.4 L1376.0,535.3 L1379.0,538.1 L1382.0,540.9 L1385.0,543.6 L1388.0,546.4 L1391.0,549.0 L1394.0,551.7 L1397.0,554.3 L1400.0,556.9 L1403.0,559.4 L1406.0,562.0 L1409.0,564.4 L1412.0,566.9 L1415.0,569.3 L1418.0,571.7 L1421.0,574.1 L1424.0,576.4 L1427.0,578.7 L1430.0,581.0 L1433.0,583.3 L1436.0,585.5 L1439.0,587.7 L1442.0,589.9 L1445.0,592.1 L1448.0,594.2 L1451.0,596.3 L1454.0,598.4 L1457.0,600.5 L1460.0,602.6 L1463.0,604.6 L1466.0,606.6 L1469.0,608.6 L1472.0,610.6 L1475.0,612.5 L1478.0,614.4 L1481.0,616.3 L1484.0,618.2 L1487.0,620.1 L1490.0,621.9 L1493.0,623.8 L1496.0,625.6 L1499.0,627.4 L1502.0,629.1 L1505.0,630.9 L1508.0,632.6 L1511.0,634.3 L1514.0,636.0 L1517.0,637.7 L1520.0,639.4 L1523.0,641.0 L1526.0,642.6 L1529.0,644.2 L1532.0,645.8 L1535.0,647.4 L1538.0,649.0 L1541.0,650.5 L1544.0,652.0 L1547.0,653.5 L1550.0,655.0 L1553.0,656.4 L1556.0,657.9 L1559.0,659.3 L1562.0,660.7 L1565.0,662.1 L1568.0,663.5 L1571.0,664.8 L1574.0,666.1 L1577.0,667.5 L1580.0,668.7 L1583.0,670.0 L1586.0,671.3 L1589.0,672.5 L1592.0,673.7 L1595.0,674.9 L1598.0,676.1 L1601.0,677.3 L1604.0,678.4 L1607.0,679.5 L1610.0,680.6 L1613.0,681.7 L1616.0,682.8 L1619.0,683.9 L1622.0,684.9 L1625.0,685.9 L1628.0,686.9 L1631.0,687.9 L1634.0,688.8 L1637.0,689.8 L1640.0,690.7 L1643.0,691.6 L1646.0,692.5 L1649.0,693.3 L1652.0,694.2 L1655.0,695.0 L1658.0,695.8 L1661.0,696.6"/>
<path d="M326.0,673.9 L329.0,673.0 L332.0,672.1 L335.0,671.2 L338.0,670.2 L341.0,669.1 L344.0,668.1 L347.0,666.9 L350.0,665.8 L353.0,664.6 L356.0,663.4 L359.0,662.1 L362.0,660.8 L365.0,659.5 L368.0,658.2 L371.0,656.8 L374.0,655.5 L377.0,654.1 L380.0,652.6 L383.0,651.2 L386.0,649.8 L389.0,648.3 L392.0,646.8 L395.0,645.3 L398.0,643.8 L401.0,642.3 L404.0,640.8 L407.0,639.2 L410.0,637.7 L413.0,636.2 L416.0,634.6 L419.0,633.0 L422.0,631.5 L425.0,629.9 L428.0,628.3 L431.0,626.7 L434.0,625.1 L437.0,623.5 L440.0,621.8 L443.0,620.2 L446.0,618.6 L449.0,616.9 L452.0,615.3 L455.0,613.6 L458.0,611.9 L461.0,610.2 L464.0,608.5 L467.0,606.7 L470.0,605.0 L473.0,603.2 L476.0,601.4 L479.0,599.6 L482.0,597.8 L485.0,595.9 L488.0,594.0 L491.0,592.1 L494.0,590.2 L497.0,588.3 L500.0,586.3 L503.0,584.3 L506.0,582.3 L509.0,580.3 L512.0,578.2 L515.0,576.1 L518.0,574.0 L521.0,571.9 L524.0,569.7 L527.0,567.6 L530.0,565.3 L533.0,563.1 L536.0,560.8 L539.0,558.5 L542.0,556.2 L545.0,553.9 L548.0,551.5 L551.0,549.0 L554.0,546.6 L557.0,544.0 L560.0,541.5 L563.0,538.9 L566.0,536.3 L569.0,533.6 L572.0,530.9 L575.0,528.1 L578.0,525.3 L581.0,522.5 L584.0,519.6 L587.0,516.7 L590.0,513.8 L593.0,510.8 L596.0,507.8 L599.0,504.7 L602.0,501.6 L605.0,498.5 L608.0,495.4 L611.0,492.2 L614.0,489.0 L617.0,485.7 L620.0,482.5 L623.0,479.2 L626.0,475.8 L629.0,472.5 L632.0,469.1 L635.0,465.7 L638.0,462.2 L641.0,458.8 L644.0,455.3 L647.0,451.7 L650.0,448.2 L653.0,444.6 L656.0,441.0 L659.0,437.4 L662.0,433.7 L665.0,430.0 L668.0,426.3 L671.0,422.6 L674.0,418.8 L677.0,415.0 L680.0,411.2 L683.0,407.4 L686.0,403.5 L689.0,399.6 L692.0,395.6 L695.0,391.6 L698.0,387.6 L701.0,383.6 L704.0,379.6 L707.0,375.5 L710.0,371.4 L713.0,367.2 L716.0,363.1 L719.0,358.9 L722.0,354.6 L725.0,350.4 L728.0,346.1 L731.0,341.9 L734.0,337.5 L737.0,333.2 L740.0,328.9 L743.0,324.5 L746.0,320.1 L749.0,315.7 L752.0,311.2 L755.0,306.8 L758.0,302.3 L761.0,297.8 L764.0,293.3 L767.0,288.8 L770.0,284.3 L773.0,279.8 L776.0,275.3 L779.0,270.7 L782.0,266.2 L785.0,261.6 L788.0,257.1 L791.0,252.5 L794.0,248.0 L797.0,243.4 L800.0,238.8 L803.0,234.3 L806.0,229.7 L809.0,225.2 L812.0,220.7 L815.0,216.2 L818.0,211.7 L821.0,207.2 L824.0,202.7 L827.0,198.3 L830.0,193.8 L833.0,189.5 L836.0,185.1 L839.0,180.8 L842.0,176.5 L845.0,172.2 L848.0,168.0 L851.0,163.8 L854.0,159.7 L857.0,155.6 L860.0,151.6 L863.0,147.6 L866.0,143.7 L869.0,139.8 L872.0,136.0 L875.0,132.2 L878.0,128.5 L881.0,124.9 L884.0,121.3 L887.0,117.8 L890.0,114.4 L893.0,111.1 L896.0,107.8 L899.0,104.6 L902.0,101.5 L905.0,98.5 L908.0,95.5 L911.0,92.7 L914.0,89.9 L917.0,87.2 L920.0,84.6 L923.0,82.1 L926.0,79.7 L929.0,77.4 L932.0,75.2 L935.0,73.1 L938.0,71.0 L941.0,69.1 L944.0,67.3 L947.0,65.5 L950.0,63.9 L953.0,62.3 L956.0,60.8 L959.0,59.4 L962.0,58.1 L965.0,56.9 L968.0,55.8 L971.0,54.7 L974.0,53.7 L977.0,52.8 L980.0,52.0 L983.0,51.2 L986.0,50.5 L989.0,49.9 L992.0,49.3 L995.0,48.8 L998.0,48.4 L1001.0,48.0 L1004.0,47.7 L1007.0,47.5 L1010.0,47.3 L1013.0,47.2 L1016.0,47.1 L1019.0,47.1 L1022.0,47.2 L1025.0,47.3 L1028.0,47.4 L1031.0,47.7 L1034.0,47.9 L1037.0,48.3 L1040.0,48.7 L1043.0,49.1 L1046.0,49.6 L1049.0,50.2 L1052.0,50.8 L1055.0,51.5 L1058.0,52.2 L1061.0,53.0 L1064.0,53.8 L1067.0,54.7 L1070.0,55.7 L1073.0,56.7 L1076.0,57.8 L1079.0,59.0 L1082.0,60.3 L1085.0,61.6 L1088.0,62.9 L1091.0,64.4 L1094.0,65.9 L1097.0,67.5 L1100.0,69.2 L1103.0,71.0 L1106.0,72.8 L1109.0,74.7 L1112.0,76.7 L1115.0,78.8 L1118.0,81.0 L1121.0,83.2 L1124.0,85.6 L1127.0,88.0 L1130.0,90.5 L1133.0,93.1 L1136.0,95.8 L1139.0,98.6 L1142.0,101.5 L1145.0,104.5 L1148.0,107.5 L1151.0,110.6 L1154.0,113.9 L1157.0,117.2 L1160.0,120.6 L1163.0,124.0 L1166.0,127.6 L1169.0,131.2 L1172.0,134.9 L1175.0,138.7 L1178.0,142.6 L1181.0,146.5 L1184.0,150.5 L1187.0,154.5 L1190.0,158.6 L1193.0,162.8 L1196.0,167.0 L1199.0,171.3 L1202.0,175.6 L1205.0,180.0 L1208.0,184.4 L1211.0,188.8 L1214.0,193.3 L1217.0,197.8 L1220.0,202.4 L1223.0,206.9 L1226.0,211.5 L1229.0,216.1 L1232.0,220.8 L1235.0,225.4 L1238.0,230.1 L1241.0,234.7 L1244.0,239.4 L1247.0,244.1 L1250.0,248.8 L1253.0,253.5 L1256.0,258.1 L1259.0,262.8 L1262.0,267.5 L1265.0,272.2 L1268.0,276.8 L1271.0,281.4 L1274.0,286.1 L1277.0,290.7 L1280.0,295.3 L1283.0,299.9 L1286.0,304.4 L1289.0,308.9 L1292.0,313.5 L1295.0,317.9 L1298.0,322.4 L1301.0,326.8 L1304.0,331.2 L1307.0,335.6 L1310.0,340.0 L1313.0,344.3 L1316.0,348.6 L1319.0,352.8 L1322.0,357.0 L1325.0,361.2 L1328.0,365.3 L1331.0,369.4 L1334.0,373.5 L1337.0,377.5 L1340.0,381.5 L1343.0,385.5 L1346.0,389.4 L1349.0,393.3 L1352.0,397.1 L1355.0,401.0 L1358.0,404.8 L1361.0,408.5 L1364.0,412.3 L1367.0,416.0 L1370.0,419.6 L1373.0,423.3 L1376.0,426.9 L1379.0,430.5 L1382.0,434.1 L1385.0,437.6 L1388.0,441.2 L1391.0,444.7 L1394.0,448.1 L1397.0,451.6 L1400.0,455.0 L1403.0,458.4 L1406.0,461.8 L1409.0,465.2 L1412.0,468.5 L1415.0,471.8 L1418.0,475.0 L1421.0,478.3 L1424.0,481.5 L1427.0,484.7 L1430.0,487.9 L1433.0,491.0 L1436.0,494.1 L1439.0,497.2 L1442.0,500.3 L1445.0,503.3 L1448.0,506.3 L1451.0,509.3 L1454.0,512.2 L1457.0,515.2 L1460.0,518.1 L1463.0,521.0 L1466.0,523.8 L1469.0,526.7 L1472.0,529.5 L1475.0,532.2 L1478.0,535.0 L1481.0,537.7 L1484.0,540.4 L1487.0,543.1 L1490.0,545.7 L1493.0,548.3 L1496.0,550.9 L1499.0,553.4 L1502.0,556.0 L1505.0,558.4 L1508.0,560.9 L1511.0,563.3 L1514.0,565.7 L1517.0,568.0 L1520.0,570.3 L1523.0,572.6 L1526.0,574.8 L1529.0,577.0 L1532.0,579.2 L1535.0,581.3 L1538.0,583.4 L1541.0,585.5 L1544.0,587.5 L1547.0,589.5 L1550.0,591.5 L1553.0,593.5 L1556.0,595.4 L1559.0,597.3 L1562.0,599.1 L1565.0,601.0 L1568.0,602.8 L1571.0,604.6 L1574.0,606.3 L1577.0,608.1 L1580.0,609.8 L1583.0,611.5 L1586.0,613.2 L1589.0,614.9 L1592.0,616.5 L1595.0,618.2 L1598.0,619.8 L1601.0,621.4 L1604.0,623.0 L1607.0,624.6 L1610.0,626.2 L1613.0,627.8 L1616.0,629.4 L1619.0,630.9 L1622.0,632.5 L1625.0,634.0 L1628.0,635.6 L1631.0,637.1 L1634.0,638.6 L1637.0,640.2 L1640.0,641.7 L1643.0,643.2 L1646.0,644.6 L1649.0,646.1 L1652.0,647.6 L1655.0,649.0 L1658.0,650.5 L1661.0,651.9"/>
<path d="M326.0,512.3 L329.0,510.1 L332.0,507.9 L335.0,505.6 L338.0,503.3 L341.0,501.1 L344.0,498.8 L347.0,496.5 L350.0,494.1 L353.0,491.8 L356.0,489.4 L359.0,487.0 L362.0,484.6 L365.0,482.2 L368.0,479.8 L371.0,477.4 L374.0,474.9 L377.0,472.4 L380.0,469.9 L383.0,467.4 L386.0,464.9 L389.0,462.4 L392.0,459.8 L395.0,457.2 L398.0,454.6 L401.0,452.0 L404.0,449.4 L407.0,446.8 L410.0,444.1 L413.0,441.5 L416.0,438.8 L419.0,436.1 L422.0,433.4 L425.0,430.6 L428.0,427.9 L431.0,425.1 L434.0,422.3 L437.0,419.5 L440.0,416.7 L443.0,413.9 L446.0,411.1 L449.0,408.2 L452.0,405.3 L455.0,402.4 L458.0,399.5 L461.0,396.6 L464.0,393.7 L467.0,390.7 L470.0,387.8 L473.0,384.8 L476.0,381.8 L479.0,378.8 L482.0,375.8 L485.0,372.8 L488.0,369.7 L491.0,366.7 L494.0,363.6 L497.0,360.5 L500.0,357.4 L503.0,354.3 L506.0,351.2 L509.0,348.1 L512.0,345.0 L515.0,341.8 L518.0,338.7 L521.0,335.5 L524.0,332.3 L527.0,329.2 L530.0,326.0 L533.0,322.8 L536.0,319.6 L539.0,316.4 L542.0,313.2 L545.0,310.0 L548.0,306.8 L551.0,303.5 L554.0,300.3 L557.0,297.1 L560.0,293.8 L563.0,290.6 L566.0,287.4 L569.0,284.1 L572.0,280.9 L575.0,277.6 L578.0,274.4 L581.0,271.1 L584.0,267.9 L587.0,264.7 L590.0,261.4 L593.0,258.2 L596.0,255.0 L599.0,251.8 L602.0,248.6 L605.0,245.4 L608.0,242.2 L611.0,239.1 L614.0,235.9 L617.0,232.8 L620.0,229.7 L623.0,226.6 L626.0,223.5 L629.0,220.4 L632.0,217.4 L635.0,214.4 L638.0,211.4 L641.0,208.4 L644.0,205.5 L647.0,202.6 L650.0,199.7 L653.0,196.9 L656.0,194.0 L659.0,191.3 L662.0,188.5 L665.0,185.8 L668.0,183.1 L671.0,180.4 L674.0,177.8 L677.0,175.2 L680.0,172.7 L683.0,170.2 L686.0,167.7 L689.0,165.3 L692.0,163.0 L695.0,160.6 L698.0,158.4 L701.0,156.1 L704.0,153.9 L707.0,151.8 L710.0,149.7 L713.0,147.7 L716.0,145.7 L719.0,143.8 L722.0,141.9 L725.0,140.1 L728.0,138.4 L731.0,136.7 L734.0,135.0 L737.0,133.5 L740.0,132.0 L743.0,130.6 L746.0,129.2 L749.0,128.0 L752.0,126.8 L755.0,125.7 L758.0,124.6 L761.0,123.7 L764.0,122.8 L767.0,122.0 L770.0,121.3 L773.0,120.7 L776.0,120.2 L779.0,119.7 L782.0,119.4 L785.0,119.1 L788.0,118.9 L791.0,118.8 L794.0,118.8 L797.0,118.9 L800.0,119.0 L803.0,119.3 L806.0,119.7 L809.0,120.1 L812.0,120.7 L815.0,121.3 L818.0,122.1 L821.0,123.0 L824.0,123.9 L827.0,125.0 L830.0,126.2 L833.0,127.5 L836.0,128.9 L839.0,130.4 L842.0,132.0 L845.0,133.8 L848.0,135.6 L851.0,137.5 L854.0,139.5 L857.0,141.7 L860.0,143.9 L863.0,146.2 L866.0,148.5 L869.0,150.9 L872.0,153.4 L875.0,155.9 L878.0,158.5 L881.0,161.1 L884.0,163.7 L887.0,166.3 L890.0,169.0 L893.0,171.6 L896.0,174.2 L899.0,176.7 L902.0,179.3 L905.0,181.8 L908.0,184.2 L911.0,186.7 L914.0,189.0 L917.0,191.4 L920.0,193.7 L923.0,196.0 L926.0,198.4 L929.0,200.7 L932.0,203.0 L935.0,205.3 L938.0,207.7 L941.0,210.2 L944.0,212.7 L947.0,215.2 L950.0,217.8 L953.0,220.5 L956.0,223.2 L959.0,225.9 L962.0,228.7 L965.0,231.4 L968.0,234.1 L971.0,236.6 L974.0,239.1 L977.0,241.4 L980.0,243.6 L983.0,245.5 L986.0,247.2 L989.0,248.7 L992.0,250.0 L995.0,251.0 L998.0,251.7 L1001.0,252.3 L1004.0,252.7 L1007.0,253.0 L1010.0,253.2 L1013.0,253.2 L1016.0,253.2 L1019.0,253.2 L1022.0,253.2 L1025.0,253.2 L1028.0,253.2 L1031.0,253.2 L1034.0,253.2 L1037.0,253.2 L1040.0,253.0 L1043.0,252.8 L1046.0,252.4 L1049.0,251.9 L1052.0,251.1 L1055.0,250.2 L1058.0,249.0 L1061.0,247.5 L1064.0,245.9 L1067.0,244.0 L1070.0,241.9 L1073.0,239.6 L1076.0,237.1 L1079.0,234.6 L1082.0,231.9 L1085.0,229.2 L1088.0,226.4 L1091.0,223.7 L1094.0,221.0 L1097.0,218.3 L1100.0,215.6 L1103.0,213.1 L1106.0,210.5 L1109.0,208.1 L1112.0,205.7 L1115.0,203.3 L1118.0,200.9 L1121.0,198.6 L1124.0,196.3 L1127.0,194.0 L1130.0,191.7 L1133.0,189.3 L1136.0,186.9 L1139.0,184.5 L1142.0,182.0 L1145.0,179.6 L1148.0,177.0 L1151.0,174.5 L1154.0,171.9 L1157.0,169.3 L1160.0,166.6 L1163.0,164.0 L1166.0,161.4 L1169.0,158.8 L1172.0,156.2 L1175.0,153.6 L1178.0,151.1 L1181.0,148.7 L1184.0,146.3 L1187.0,144.0 L1190.0,141.7 L1193.0,139.6 L1196.0,137.5 L1199.0,135.5 L1202.0,133.6 L1205.0,131.9 L1208.0,130.2 L1211.0,128.6 L1214.0,127.2 L1217.0,125.8 L1220.0,124.6 L1223.0,123.5 L1226.0,122.5 L1229.0,121.6 L1232.0,120.8 L1235.0,120.1 L1238.0,119.5 L1241.0,119.0 L1244.0,118.6 L1247.0,118.4 L1250.0,118.2 L1253.0,118.1 L1256.0,118.1 L1259.0,118.2 L1262.0,118.4 L1265.0,118.7 L1268.0,119.1 L1271.0,119.5 L1274.0,120.1 L1277.0,120.7 L1280.0,121.4 L1283.0,122.2 L1286.0,123.1 L1289.0,124.0 L1292.0,125.0 L1295.0,126.1 L1298.0,127.3 L1301.0,128.5 L1304.0,129.8 L1307.0,131.2 L1310.0,132.7 L1313.0,134.2 L1316.0,135.8 L1319.0,137.4 L1322.0,139.1 L1325.0,140.9 L1328.0,142.7 L1331.0,144.6 L1334.0,146.5 L1337.0,148.5 L1340.0,150.5 L1343.0,152.5 L1346.0,154.7 L1349.0,156.8 L1352.0,159.0 L1355.0,161.2 L1358.0,163.5 L1361.0,165.8 L1364.0,168.2 L1367.0,170.6 L1370.0,173.0 L1373.0,175.4 L1376.0,177.9 L1379.0,180.4 L1382.0,183.0 L1385.0,185.6 L1388.0,188.3 L1391.0,190.9 L1394.0,193.7 L1397.0,196.4 L1400.0,199.2 L1403.0,202.1 L1406.0,204.9 L1409.0,207.9 L1412.0,210.8 L1415.0,213.8 L1418.0,216.8 L1421.0,219.9 L1424.0,223.0 L1427.0,226.1 L1430.0,229.2 L1433.0,232.4 L1436.0,235.6 L1439.0,238.8 L1442.0,242.1 L1445.0,245.4 L1448.0,248.6 L1451.0,251.9 L1454.0,255.3 L1457.0,258.6 L1460.0,261.9 L1463.0,265.3 L1466.0,268.7 L1469.0,272.0 L1472.0,275.4 L1475.0,278.8 L1478.0,282.2 L1481.0,285.6 L1484.0,289.0 L1487.0,292.4 L1490.0,295.8 L1493.0,299.1 L1496.0,302.5 L1499.0,305.9 L1502.0,309.2 L1505.0,312.6 L1508.0,315.9 L1511.0,319.2 L1514.0,322.5 L1517.0,325.8 L1520.0,329.1 L1523.0,332.4 L1526.0,335.6 L1529.0,338.9 L1532.0,342.1 L1535.0,345.3 L1538.0,348.5 L1541.0,351.6 L1544.0,354.8 L1547.0,357.9 L1550.0,361.0 L1553.0,364.1 L1556.0,367.1 L1559.0,370.2 L1562.0,373.2 L1565.0,376.2 L1568.0,379.1 L1571.0,382.1 L1574.0,385.0 L1577.0,388.0 L1580.0,390.9 L1583.0,393.7 L1586.0,396.6 L1589.0,399.5 L1592.0,402.3 L1595.0,405.1 L1598.0,407.9 L1601.0,410.7 L1604.0,413.5 L1607.0,416.3 L1610.0,419.1 L1613.0,421.8 L1616.0,424.6 L1619.0,427.3 L1622.0,430.0 L1625.0,432.7 L1628.0,435.4 L1631.0,438.1 L1634.0,440.8 L1637.0,443.5 L1640.0,446.1 L1643.0,448.7 L1646.0,451.4 L1649.0,454.0 L1652.0,456.5 L1655.0,459.1 L1658.0,461.7 L1661.0,464.2"/>
<path d="M326.0,418.5 L329.0,415.5 L332.0,412.6 L335.0,409.7 L338.0,406.8 L341.0,403.8 L344.0,400.9 L347.0,398.0 L350.0,395.1 L353.0,392.1 L356.0,389.2 L359.0,386.3 L362.0,383.4 L365.0,380.5 L368.0,377.5 L371.0,374.6 L374.0,371.7 L377.0,368.8 L380.0,365.9 L383.0,363.0 L386.0,360.1 L389.0,357.2 L392.0,354.3 L395.0,351.4 L398.0,348.5 L401.0,345.6 L404.0,342.7 L407.0,339.8 L410.0,336.9 L413.0,334.0 L416.0,331.1 L419.0,328.2 L422.0,325.3 L425.0,322.4 L428.0,319.5 L431.0,316.6 L434.0,313.7 L437.0,310.8 L440.0,307.9 L443.0,305.0 L446.0,302.1 L449.0,299.2 L452.0,296.3 L455.0,293.4 L458.0,290.5 L461.0,287.6 L464.0,284.7 L467.0,281.8 L470.0,278.9 L473.0,276.0 L476.0,273.1 L479.0,270.2 L482.0,267.3 L485.0,264.4 L488.0,261.5 L491.0,258.6 L494.0,255.7 L497.0,252.8 L500.0,249.9 L503.0,247.0 L506.0,244.2 L509.0,241.3 L512.0,238.4 L515.0,235.6 L518.0,232.7 L521.0,229.8 L524.0,227.0 L527.0,224.2 L530.0,221.3 L533.0,218.5 L536.0,215.7 L539.0,212.9 L542.0,210.1 L545.0,207.4 L548.0,204.6 L551.0,201.9 L554.0,199.2 L557.0,196.5 L560.0,193.8 L563.0,191.2 L566.0,188.6 L569.0,186.0 L572.0,183.4 L575.0,180.9 L578.0,178.4 L581.0,175.9 L584.0,173.5 L587.0,171.1 L590.0,168.8 L593.0,166.5 L596.0,164.2 L599.0,161.9 L602.0,159.7 L605.0,157.6 L608.0,155.5 L611.0,153.4 L614.0,151.4 L617.0,149.4 L620.0,147.4 L623.0,145.6 L626.0,143.7 L629.0,141.9 L632.0,140.2 L635.0,138.5 L638.0,136.9 L641.0,135.3 L644.0,133.8 L647.0,132.3 L650.0,131.0 L653.0,129.6 L656.0,128.4 L659.0,127.2 L662.0,126.1 L665.0,125.0 L668.0,124.0 L671.0,123.1 L674.0,122.3 L677.0,121.5 L680.0,120.9 L683.0,120.3 L686.0,119.8 L689.0,119.3 L692.0,119.0 L695.0,118.8 L698.0,118.6 L701.0,118.5 L704.0,118.5 L707.0,118.6 L710.0,118.8 L713.0,119.1 L716.0,119.4 L719.0,119.9 L722.0,120.4 L725.0,121.0 L728.0,121.7 L731.0,122.5 L734.0,123.4 L737.0,124.4 L740.0,125.4 L743.0,126.5 L746.0,127.7 L749.0,129.0 L752.0,130.3 L755.0,131.7 L758.0,133.2 L761.0,134.8 L764.0,136.5 L767.0,138.2 L770.0,140.0 L773.0,141.9 L776.0,143.8 L779.0,145.8 L782.0,147.9 L785.0,150.1 L788.0,152.3 L791.0,154.6 L794.0,156.9 L797.0,159.3 L800.0,161.8 L803.0,164.3 L806.0,166.9 L809.0,169.6 L812.0,172.3 L815.0,175.1 L818.0,177.9 L821.0,180.9 L824.0,183.8 L827.0,186.9 L830.0,190.0 L833.0,193.1 L836.0,196.3 L839.0,199.6 L842.0,203.0 L845.0,206.4 L848.0,209.8 L851.0,213.3 L854.0,216.9 L857.0,220.5 L860.0,224.2 L863.0,228.0 L866.0,231.8 L869.0,235.6 L872.0,239.5 L875.0,243.5 L878.0,247.5 L881.0,251.5 L884.0,255.5 L887.0,259.6 L890.0,263.8 L893.0,267.9 L896.0,272.1 L899.0,276.3 L902.0,280.5 L905.0,284.7 L908.0,288.9 L911.0,293.1 L914.0,297.3 L917.0,301.5 L920.0,305.6 L923.0,309.8 L926.0,313.8 L929.0,317.9 L932.0,321.9 L935.0,325.8 L938.0,329.7 L941.0,333.5 L944.0,337.2 L947.0,340.8 L950.0,344.3 L953.0,347.8 L956.0,351.1 L959.0,354.2 L962.0,357.3 L965.0,360.3 L968.0,363.1 L971.0,365.7 L974.0,368.3 L977.0,370.7 L980.0,372.9 L983.0,375.0 L986.0,376.9 L989.0,378.7 L992.0,380.3 L995.0,381.8 L998.0,383.1 L1001.0,384.3 L1004.0,385.3 L1007.0,386.1 L1010.0,386.8 L1013.0,387.3 L1016.0,387.6 L1019.0,387.8 L1022.0,387.8 L1025.0,387.7 L1028.0,387.4 L1031.0,387.0 L1034.0,386.4 L1037.0,385.6 L1040.0,384.7 L1043.0,383.6 L1046.0,382.4 L1049.0,381.0 L1052.0,379.5 L1055.0,377.8 L1058.0,375.9 L1061.0,374.0 L1064.0,371.8 L1067.0,369.6 L1070.0,367.2 L1073.0,364.6 L1076.0,361.9 L1079.0,359.1 L1082.0,356.2 L1085.0,353.1 L1088.0,350.0 L1091.0,346.7 L1094.0,343.3 L1097.0,339.8 L1100.0,336.2 L1103.0,332.5 L1106.0,328.8 L1109.0,325.0 L1112.0,321.1 L1115.0,317.1 L1118.0,313.1 L1121.0,309.0 L1124.0,304.9 L1127.0,300.8 L1130.0,296.6 L1133.0,292.4 L1136.0,288.2 L1139.0,284.0 L1142.0,279.8 L1145.0,275.5 L1148.0,271.3 L1151.0,267.1 L1154.0,262.8 L1157.0,258.6 L1160.0,254.5 L1163.0,250.3 L1166.0,246.3 L1169.0,242.2 L1172.0,238.2 L1175.0,234.2 L1178.0,230.3 L1181.0,226.4 L1184.0,222.6 L1187.0,218.9 L1190.0,215.2 L1193.0,211.5 L1196.0,207.9 L1199.0,204.4 L1202.0,201.0 L1205.0,197.6 L1208.0,194.2 L1211.0,191.0 L1214.0,187.7 L1217.0,184.6 L1220.0,181.5 L1223.0,178.5 L1226.0,175.5 L1229.0,172.6 L1232.0,169.8 L1235.0,167.0 L1238.0,164.4 L1241.0,161.7 L1244.0,159.2 L1247.0,156.7 L1250.0,154.2 L1253.0,151.9 L1256.0,149.6 L1259.0,147.4 L1262.0,145.2 L1265.0,143.2 L1268.0,141.2 L1271.0,139.2 L1274.0,137.4 L1277.0,135.6 L1280.0,134.0 L1283.0,132.4 L1286.0,130.8 L1289.0,129.4 L1292.0,128.1 L1295.0,126.8 L1298.0,125.7 L1301.0,124.6 L1304.0,123.6 L1307.0,122.7 L1310.0,121.9 L1313.0,121.2 L1316.0,120.6 L1319.0,120.1 L1322.0,119.6 L1325.0,119.2 L1328.0,119.0 L1331.0,118.7 L1334.0,118.6 L1337.0,118.6 L1340.0,118.6 L1343.0,118.7 L1346.0,118.8 L1349.0,119.1 L1352.0,119.4 L1355.0,119.8 L1358.0,120.2 L1361.0,120.8 L1364.0,121.4 L1367.0,122.1 L1370.0,122.8 L1373.0,123.7 L1376.0,124.6 L1379.0,125.6 L1382.0,126.6 L1385.0,127.7 L1388.0,128.9 L1391.0,130.2 L1394.0,131.5 L1397.0,132.9 L1400.0,134.4 L1403.0,135.9 L1406.0,137.5 L1409.0,139.1 L1412.0,140.8 L1415.0,142.6 L1418.0,144.4 L1421.0,146.3 L1424.0,148.2 L1427.0,150.1 L1430.0,152.2 L1433.0,154.2 L1436.0,156.3 L1439.0,158.5 L1442.0,160.7 L1445.0,162.9 L1448.0,165.2 L1451.0,167.4 L1454.0,169.8 L1457.0,172.1 L1460.0,174.5 L1463.0,176.9 L1466.0,179.3 L1469.0,181.8 L1472.0,184.3 L1475.0,186.8 L1478.0,189.3 L1481.0,191.8 L1484.0,194.3 L1487.0,196.9 L1490.0,199.4 L1493.0,202.0 L1496.0,204.6 L1499.0,207.2 L1502.0,209.8 L1505.0,212.5 L1508.0,215.1 L1511.0,217.8 L1514.0,220.5 L1517.0,223.2 L1520.0,225.9 L1523.0,228.7 L1526.0,231.5 L1529.0,234.3 L1532.0,237.1 L1535.0,239.9 L1538.0,242.7 L1541.0,245.6 L1544.0,248.4 L1547.0,251.3 L1550.0,254.2 L1553.0,257.0 L1556.0,259.9 L1559.0,262.8 L1562.0,265.7 L1565.0,268.6 L1568.0,271.6 L1571.0,274.5 L1574.0,277.4 L1577.0,280.3 L1580.0,283.2 L1583.0,286.1 L1586.0,289.1 L1589.0,292.0 L1592.0,294.9 L1595.0,297.8 L1598.0,300.8 L1601.0,303.7 L1604.0,306.6 L1607.0,309.5 L1610.0,312.5 L1613.0,315.4 L1616.0,318.3 L1619.0,321.3 L1622.0,324.2 L1625.0,327.1 L1628.0,330.1 L1631.0,333.0 L1634.0,336.0 L1637.0,338.9 L1640.0,341.9 L1643.0,344.8 L1646.0,347.8 L1649.0,350.7 L1652.0,353.7 L1655.0,356.6 L1658.0,359.6 L1661.0,362.6"/>
<path d="M326.0,312.7 L329.0,309.8 L332.0,306.9 L335.0,303.9 L338.0,301.0 L341.0,298.0 L344.0,295.1 L347.0,292.2 L350.0,289.3 L353.0,286.3 L356.0,283.4 L359.0,280.5 L362.0,277.6 L365.0,274.7 L368.0,271.8 L371.0,269.0 L374.0,266.1 L377.0,263.2 L380.0,260.4 L383.0,257.6 L386.0,254.8 L389.0,252.0 L392.0,249.2 L395.0,246.4 L398.0,243.7 L401.0,240.9 L404.0,238.2 L407.0,235.5 L410.0,232.8 L413.0,230.1 L416.0,227.4 L419.0,224.8 L422.0,222.2 L425.0,219.5 L428.0,216.9 L431.0,214.3 L434.0,211.7 L437.0,209.2 L440.0,206.6 L443.0,204.0 L446.0,201.5 L449.0,199.0 L452.0,196.5 L455.0,194.0 L458.0,191.5 L461.0,189.0 L464.0,186.6 L467.0,184.2 L470.0,181.7 L473.0,179.4 L476.0,177.0 L479.0,174.6 L482.0,172.3 L485.0,170.0 L488.0,167.7 L491.0,165.5 L494.0,163.2 L497.0,161.0 L500.0,158.8 L503.0,156.6 L506.0,154.5 L509.0,152.4 L512.0,150.3 L515.0,148.2 L518.0,146.2 L521.0,144.2 L524.0,142.2 L527.0,140.3 L530.0,138.3 L533.0,136.4 L536.0,134.6 L539.0,132.7 L542.0,130.9 L545.0,129.1 L548.0,127.4 L551.0,125.7 L554.0,124.0 L557.0,122.3 L560.0,120.7 L563.0,119.1 L566.0,117.5 L569.0,116.0 L572.0,114.5 L575.0,113.1 L578.0,111.6 L581.0,110.3 L584.0,108.9 L587.0,107.7 L590.0,106.4 L593.0,105.2 L596.0,104.1 L599.0,103.0 L602.0,102.0 L605.0,101.0 L608.0,100.1 L611.0,99.2 L614.0,98.4 L617.0,97.7 L620.0,97.0 L623.0,96.4 L626.0,95.8 L629.0,95.3 L632.0,94.9 L635.0,94.5 L638.0,94.2 L641.0,94.0 L644.0,93.8 L647.0,93.7 L650.0,93.7 L653.0,93.7 L656.0,93.8 L659.0,94.0 L662.0,94.2 L665.0,94.6 L668.0,95.0 L671.0,95.5 L674.0,96.0 L677.0,96.7 L680.0,97.4 L683.0,98.2 L686.0,99.1 L689.0,100.1 L692.0,101.1 L695.0,102.3 L698.0,103.5 L701.0,104.9 L704.0,106.3 L707.0,107.8 L710.0,109.5 L713.0,111.2 L716.0,113.0 L719.0,114.9 L722.0,116.8 L725.0,118.9 L728.0,121.1 L731.0,123.4 L734.0,125.7 L737.0,128.2 L740.0,130.7 L743.0,133.4 L746.0,136.1 L749.0,138.9 L752.0,141.8 L755.0,144.8 L758.0,147.9 L761.0,151.0 L764.0,154.3 L767.0,157.6 L770.0,161.0 L773.0,164.4 L776.0,168.0 L779.0,171.6 L782.0,175.3 L785.0,179.1 L788.0,182.9 L791.0,186.7 L794.0,190.7 L797.0,194.7 L800.0,198.7 L803.0,202.8 L806.0,206.9 L809.0,211.1 L812.0,215.3 L815.0,219.6 L818.0,223.9 L821.0,228.2 L824.0,232.5 L827.0,236.9 L830.0,241.3 L833.0,245.8 L836.0,250.2 L839.0,254.7 L842.0,259.2 L845.0,263.8 L848.0,268.3 L851.0,272.9 L854.0,277.6 L857.0,282.3 L860.0,287.0 L863.0,291.7 L866.0,296.5 L869.0,301.4 L872.0,306.2 L875.0,311.1 L878.0,316.1 L881.0,321.0 L884.0,326.0 L887.0,331.0 L890.0,336.1 L893.0,341.1 L896.0,346.2 L899.0,351.3 L902.0,356.3 L905.0,361.4 L908.0,366.4 L911.0,371.4 L914.0,376.3 L917.0,381.3 L920.0,386.1 L923.0,390.9 L926.0,395.6 L929.0,400.3 L932.0,404.8 L935.0,409.3 L938.0,413.6 L941.0,417.9 L944.0,422.0 L947.0,425.9 L950.0,429.8 L953.0,433.4 L956.0,436.9 L959.0,440.3 L962.0,443.5 L965.0,446.5 L968.0,449.3 L971.0,452.0 L974.0,454.5 L977.0,456.8 L980.0,459.0 L983.0,461.0 L986.0,462.8 L989.0,464.4 L992.0,465.9 L995.0,467.2 L998.0,468.4 L1001.0,469.4 L1004.0,470.2 L1007.0,470.9 L1010.0,471.5 L1013.0,471.9 L1016.0,472.2 L1019.0,472.4 L1022.0,472.4 L1025.0,472.3 L1028.0,472.1 L1031.0,471.7 L1034.0,471.2 L1037.0,470.5 L1040.0,469.7 L1043.0,468.8 L1046.0,467.7 L1049.0,466.4 L1052.0,465.0 L1055.0,463.4 L1058.0,461.7 L1061.0,459.8 L1064.0,457.7 L1067.0,455.4 L1070.0,453.0 L1073.0,450.4 L1076.0,447.7 L1079.0,444.7 L1082.0,441.6 L1085.0,438.3 L1088.0,434.8 L1091.0,431.2 L1094.0,427.5 L1097.0,423.6 L1100.0,419.5 L1103.0,415.3 L1106.0,411.0 L1109.0,406.6 L1112.0,402.1 L1115.0,397.4 L1118.0,392.7 L1121.0,387.9 L1124.0,383.1 L1127.0,378.1 L1130.0,373.2 L1133.0,368.1 L1136.0,363.1 L1139.0,358.0 L1142.0,352.9 L1145.0,347.8 L1148.0,342.7 L1151.0,337.6 L1154.0,332.5 L1157.0,327.4 L1160.0,322.3 L1163.0,317.2 L1166.0,312.2 L1169.0,307.2 L1172.0,302.2 L1175.0,297.2 L1178.0,292.3 L1181.0,287.4 L1184.0,282.5 L1187.0,277.7 L1190.0,272.9 L1193.0,268.1 L1196.0,263.3 L1199.0,258.6 L1202.0,254.0 L1205.0,249.3 L1208.0,244.7 L1211.0,240.2 L1214.0,235.7 L1217.0,231.2 L1220.0,226.7 L1223.0,222.4 L1226.0,218.0 L1229.0,213.7 L1232.0,209.4 L1235.0,205.2 L1238.0,201.1 L1241.0,197.0 L1244.0,192.9 L1247.0,188.9 L1250.0,185.0 L1253.0,181.2 L1256.0,177.4 L1259.0,173.6 L1262.0,170.0 L1265.0,166.4 L1268.0,162.9 L1271.0,159.4 L1274.0,156.1 L1277.0,152.8 L1280.0,149.6 L1283.0,146.5 L1286.0,143.4 L1289.0,140.5 L1292.0,137.6 L1295.0,134.9 L1298.0,132.2 L1301.0,129.6 L1304.0,127.1 L1307.0,124.8 L1310.0,122.5 L1313.0,120.3 L1316.0,118.2 L1319.0,116.2 L1322.0,114.3 L1325.0,112.4 L1328.0,110.7 L1331.0,109.1 L1334.0,107.6 L1337.0,106.2 L1340.0,104.8 L1343.0,103.6 L1346.0,102.4 L1349.0,101.3 L1352.0,100.3 L1355.0,99.3 L1358.0,98.5 L1361.0,97.7 L1364.0,97.0 L1367.0,96.4 L1370.0,95.8 L1373.0,95.3 L1376.0,94.9 L1379.0,94.6 L1382.0,94.3 L1385.0,94.1 L1388.0,94.0 L1391.0,93.9 L1394.0,93.9 L1397.0,94.0 L1400.0,94.1 L1403.0,94.3 L1406.0,94.5 L1409.0,94.9 L1412.0,95.2 L1415.0,95.7 L1418.0,96.1 L1421.0,96.7 L1424.0,97.3 L1427.0,97.9 L1430.0,98.6 L1433.0,99.4 L1436.0,100.2 L1439.0,101.0 L1442.0,101.9 L1445.0,102.9 L1448.0,103.9 L1451.0,104.9 L1454.0,106.0 L1457.0,107.2 L1460.0,108.4 L1463.0,109.6 L1466.0,110.9 L1469.0,112.2 L1472.0,113.6 L1475.0,115.0 L1478.0,116.4 L1481.0,117.9 L1484.0,119.5 L1487.0,121.1 L1490.0,122.7 L1493.0,124.4 L1496.0,126.1 L1499.0,127.9 L1502.0,129.6 L1505.0,131.5 L1508.0,133.3 L1511.0,135.2 L1514.0,137.2 L1517.0,139.2 L1520.0,141.2 L1523.0,143.2 L1526.0,145.3 L1529.0,147.4 L1532.0,149.5 L1535.0,151.6 L1538.0,153.8 L1541.0,156.0 L1544.0,158.3 L1547.0,160.5 L1550.0,162.8 L1553.0,165.1 L1556.0,167.5 L1559.0,169.8 L1562.0,172.2 L1565.0,174.6 L1568.0,177.1 L1571.0,179.5 L1574.0,182.0 L1577.0,184.5 L1580.0,187.0 L1583.0,189.5 L1586.0,192.1 L1589.0,194.6 L1592.0,197.2 L1595.0,199.8 L1598.0,202.4 L1601.0,205.0 L1604.0,207.6 L1607.0,210.3 L1610.0,212.9 L1613.0,215.6 L1616.0,218.2 L1619.0,220.9 L1622.0,223.6 L1625.0,226.3 L1628.0,229.0 L1631.0,231.7 L1634.0,234.4 L1637.0,237.1 L1640.0,239.8 L1643.0,242.6 L1646.0,245.3 L1649.0,248.1 L1652.0,250.8 L1655.0,253.6 L1658.0,256.4 L1661.0,259.2"/></g><use href="#fits" x="-1.8"/><use href="#fits" x="1.8"/></g>
<g fill="#000" stroke="none">
<rect x="476.6" y="246" width="3" height="404" fill="#c4c4c4"/>
<rect x="479.2" y="240" width="8.9" height="412"/>
<path d="M483.4,198.5 L494.4,245 L472.2,245 Z"/>
<rect x="1069" y="439.5" width="11" height="79" fill="#777"/>
<rect x="1070.8" y="439.2" width="7.6" height="81"/>
<path d="M1074.4,562 L1061.8,516 L1087,516 Z"/>
</g>
<path d="M997.2,139 C997.2,100 1000,62 1012,50 C1020,42 1034,42 1043,51.5 C1055,66 1064.5,105 1068.5,150 C1072,200 1074.6,300 1074.7,431.8" fill="none" stroke="#000" stroke-width="8.8"/>
<path d="M972,121.8 L996,125.5 L1001.5,141 L987.5,139.5 L973.2,131.6 Z" fill="#000"/>
<path d="M1009,55 Q1027.5,33.5 1046,55 Q1027.5,46 1009,55 Z" fill="#000"/>
<g font-family="Liberation Sans, sans-serif" fill="#0c0c0c" stroke="none" font-size="63">
<text transform="translate(266.5,192.2) scale(1.01,1.04)" text-anchor="end">0.45</text>
<text transform="translate(266.5,352.6) scale(1.01,1.04)" text-anchor="end">0.40</text>
<text transform="translate(266.5,513.1) scale(1.01,1.04)" text-anchor="end">0.35</text>
<text transform="translate(266.5,673.5) scale(1.01,1.04)" text-anchor="end">0.30</text>
<text transform="translate(327.2,827) scale(1.01,1.0)" text-anchor="middle">30</text>
<text transform="translate(549.6,827) scale(1.01,1.0)" text-anchor="middle">40</text>
<text transform="translate(772.0,827) scale(1.01,1.0)" text-anchor="middle">50</text>
<text transform="translate(994.4,827) scale(1.01,1.0)" text-anchor="middle">60</text>
<text transform="translate(1216.8,827) scale(1.01,1.0)" text-anchor="middle">70</text>
<text transform="translate(1439.1,827) scale(1.01,1.0)" text-anchor="middle">80</text>
<text transform="translate(1661.5,827) scale(1.01,1.0)" text-anchor="middle">90</text>
<text transform="translate(994,900) scale(1.0,1)" text-anchor="middle">Z (mm)</text>
<text transform="translate(70.4,375.6) rotate(-90) scale(1,1.04)" text-anchor="middle" font-size="64.4" stroke="none">Transmittance</text>
</g>
</g>
<g filter="url(#soft3)">
<g stroke="none">
<rect x="314.1" y="728.6" width="1349.2" height="2.4" fill="#e8e8e8"/>
<rect x="281.2" y="170.60" width="33" height="2.7" fill="#9a9a9a"/>
<rect x="281.2" y="176.30" width="33" height="2.7" fill="#dcdcdc"/>
<rect x="281.2" y="173.20" width="33" height="3.2" fill="#050505"/>
<rect x="281.2" y="331.05" width="33" height="2.7" fill="#9a9a9a"/>
<rect x="281.2" y="336.75" width="33" height="2.7" fill="#dcdcdc"/>
<rect x="281.2" y="333.65" width="33" height="3.2" fill="#050505"/>
<rect x="281.2" y="491.50" width="33" height="2.7" fill="#9a9a9a"/>
<rect x="281.2" y="497.20" width="33" height="2.7" fill="#dcdcdc"/>
<rect x="281.2" y="494.10" width="33" height="3.2" fill="#050505"/>
<rect x="281.2" y="651.95" width="33" height="2.7" fill="#9a9a9a"/>
<rect x="281.2" y="657.65" width="33" height="2.7" fill="#dcdcdc"/>
<rect x="281.2" y="654.55" width="33" height="3.2" fill="#050505"/>
<rect x="323.30" y="728.5" width="2.6" height="33" fill="#dcdcdc"/>
<rect x="328.90" y="728.5" width="2.7" height="33" fill="#9a9a9a"/>
<rect x="325.85" y="727" width="3.1" height="34.6" fill="#050505"/>
<rect x="545.69" y="728.5" width="2.6" height="33" fill="#dcdcdc"/>
<rect x="551.29" y="728.5" width="2.7" height="33" fill="#9a9a9a"/>
<rect x="548.24" y="727" width="3.1" height="34.6" fill="#050505"/>
<rect x="768.08" y="728.5" width="2.6" height="33" fill="#dcdcdc"/>
<rect x="773.68" y="728.5" width="2.7" height="33" fill="#9a9a9a"/>
<rect x="770.63" y="727" width="3.1" height="34.6" fill="#050505"/>
<rect x="990.47" y="728.5" width="2.6" height="33" fill="#dcdcdc"/>
<rect x="996.07" y="728.5" width="2.7" height="33" fill="#9a9a9a"/>
<rect x="993.02" y="727" width="3.1" height="34.6" fill="#050505"/>
<rect x="1212.86" y="728.5" width="2.6" height="33" fill="#dcdcdc"/>
<rect x="1218.46" y="728.5" width="2.7" height="33" fill="#9a9a9a"/>
<rect x="1215.41" y="727" width="3.1" height="34.6" fill="#050505"/>
<rect x="1435.25" y="728.5" width="2.6" height="33" fill="#dcdcdc"/>
<rect x="1440.85" y="728.5" width="2.7" height="33" fill="#9a9a9a"/>
<rect x="1437.80" y="727" width="3.1" height="34.6" fill="#050505"/>
<rect x="1657.34" y="728.5" width="3" height="33" fill="#777"/>
<rect x="1660.19" y="727" width="3.1" height="34.6" fill="#050505"/>
<rect x="317.2" y="35" width="3" height="691" fill="#6a6a6a"/>
<rect x="317.2" y="723.2" width="1346.1" height="2.8" fill="#8c8c8c"/>
<rect x="314.1" y="35" width="3.2" height="693.8" fill="#050505"/>
<rect x="314.1" y="725.8" width="1349.2" height="3" fill="#050505"/>
</g>
</g>
<g filter="url(#soft2)">
<rect x="856" y="584" width="320" height="89" fill="none" stroke="#f7f7f7" stroke-width="1.1"/>
<text x="1020.5" y="657" text-anchor="middle" font-family="Liberation Sans, sans-serif" font-size="80" fill="#000" stroke="#fff" stroke-width="1.1" letter-spacing="1">1055 nm</text>
</g>
</svg>
</body></html>
